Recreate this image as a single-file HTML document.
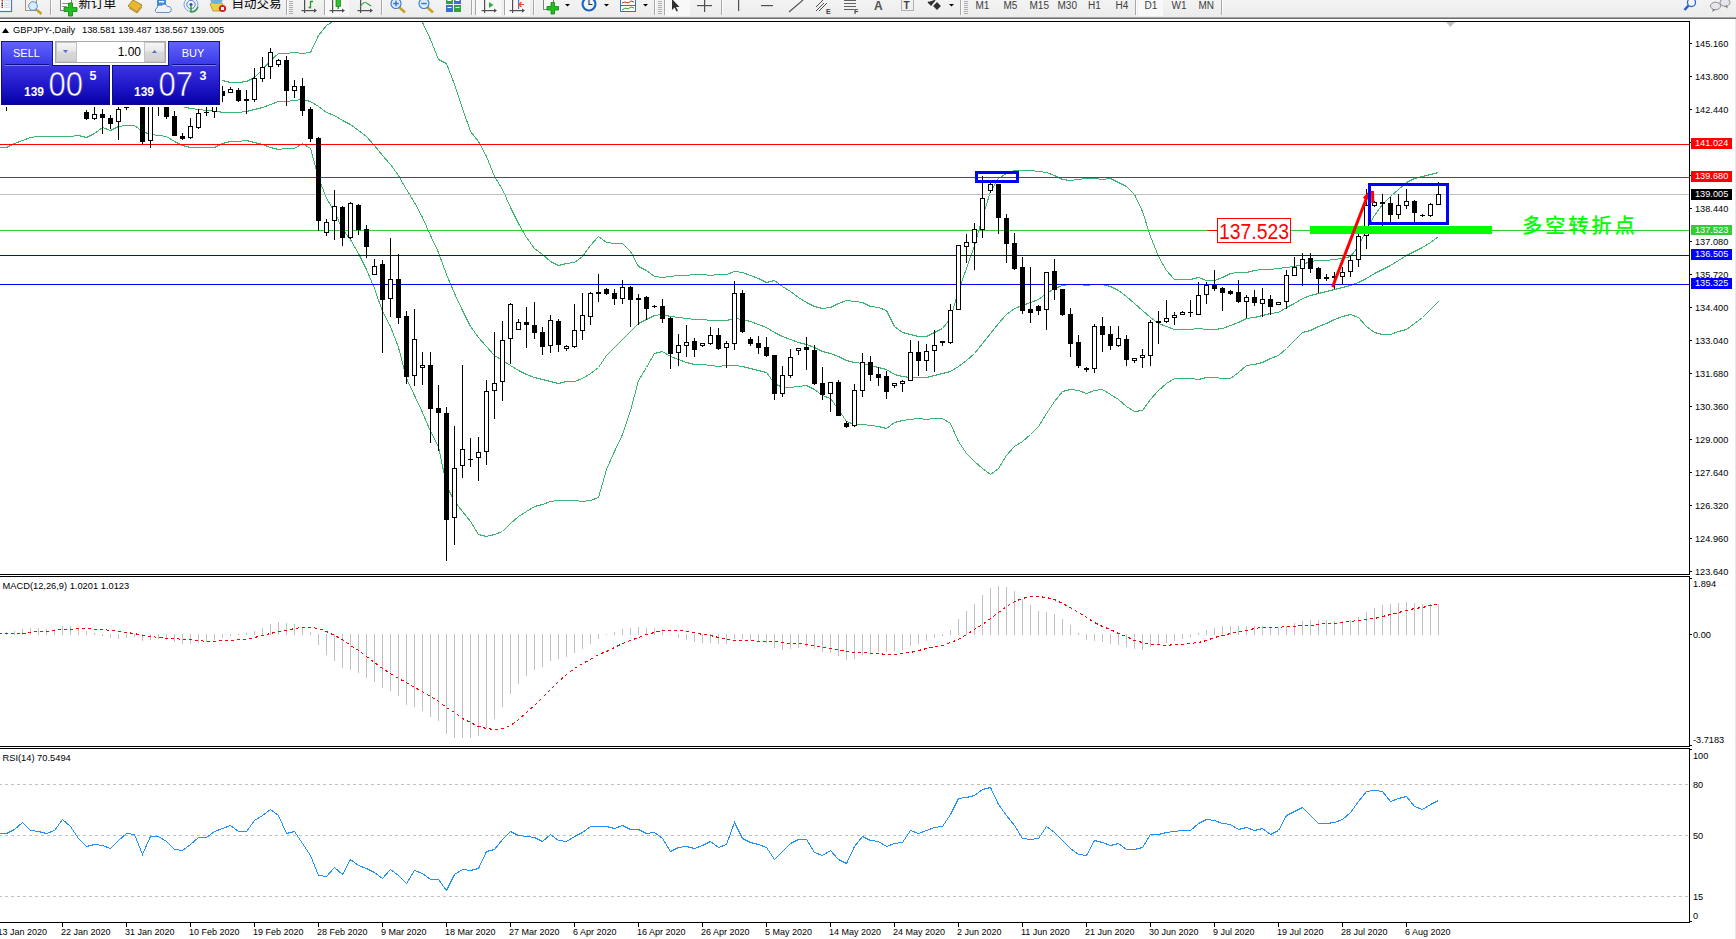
<!DOCTYPE html>
<html><head><meta charset="utf-8"><title>GBPJPY Daily</title>
<style>
html,body{margin:0;padding:0;background:#fff;}
body{width:1736px;height:939px;overflow:hidden;position:relative;font-family:'Liberation Sans', 'Noto Sans CJK SC', sans-serif;}
#tb{position:absolute;left:0;top:0;width:1736px;height:17px;background:#f0f0f0;overflow:hidden;}
#tbl{position:absolute;left:0;top:17px;width:1736px;height:1px;background:#a4a4a4;border-bottom:1px solid #6e6e6e;}
#chart{position:absolute;left:0;top:0;}
#edge{position:absolute;left:1735px;top:19px;width:1px;height:920px;background:#e8e8e8;}
</style></head><body>
<svg id="chart" width="1736" height="939" viewBox="0 0 1736 939" shape-rendering="crispEdges"><line x1="0" y1="21.5" x2="1690" y2="21.5" stroke="#000" stroke-width="1" /><line x1="0" y1="574.5" x2="1690" y2="574.5" stroke="#000" stroke-width="1" /><line x1="0" y1="576.5" x2="1690" y2="576.5" stroke="#000" stroke-width="1" /><line x1="0" y1="746.5" x2="1690" y2="746.5" stroke="#000" stroke-width="1" /><line x1="0" y1="748.5" x2="1690" y2="748.5" stroke="#000" stroke-width="1" /><line x1="0" y1="922.5" x2="1690" y2="922.5" stroke="#000" stroke-width="1" /><line x1="1689.5" y1="21" x2="1689.5" y2="575" stroke="#000" stroke-width="1" /><line x1="1689.5" y1="576" x2="1689.5" y2="747" stroke="#000" stroke-width="1" /><line x1="1689.5" y1="748" x2="1689.5" y2="923" stroke="#000" stroke-width="1" /><clipPath id="cm"><rect x="0" y="22" width="1689" height="552"/></clipPath><clipPath id="cd"><rect x="0" y="577" width="1689" height="169"/></clipPath><clipPath id="cr"><rect x="0" y="749" width="1689" height="173"/></clipPath><g clip-path="url(#cm)"><polyline points="-1.5,52.5 6.5,52.5 14.5,61.5 22.5,66.5 30.5,71.5 38.5,73.5 46.5,74.5 54.5,72.5 62.5,66.5 70.5,63.5 78.5,63.5 86.5,62.5 94.5,64.5 102.5,67.5 110.5,66.5 118.5,68.5 126.5,67.5 134.5,68.5 142.5,64.5 150.5,65.5 158.5,65.5 166.5,65.5 174.5,64.5 182.5,67.5 190.5,69.5 198.5,71.5 206.5,72.5 214.5,74.5 222.5,80.5 230.5,82.5 238.5,82.5 246.5,81.5 254.5,77.5 262.5,69.5 270.5,60.5 278.5,53.5 286.5,53.5 294.5,52.5 302.5,53.5 310.5,52.5 318.5,35.5 326.5,25.5 334.5,20.5 342.5,11.5 350.5,9.5 358.5,6.5 366.5,3.5 374.5,1.5 382.5,-0.5 390.5,2.5 398.5,3.5 406.5,0.5 414.5,9.5 422.5,22.5 430.5,39.5 438.5,59.5 446.5,63.5 454.5,84.5 462.5,108.5 470.5,131.5 478.5,141.5 486.5,156.5 494.5,176.5 502.5,189.5 510.5,207.5 518.5,223.5 526.5,237.5 534.5,248.5 542.5,254.5 550.5,261.5 558.5,265.5 566.5,263.5 574.5,262.5 582.5,256.5 590.5,245.5 598.5,236.5 606.5,242.5 614.5,243.5 622.5,243.5 630.5,251.5 638.5,266.5 646.5,270.5 654.5,276.5 662.5,277.5 670.5,276.5 678.5,275.5 686.5,275.5 694.5,274.5 702.5,274.5 710.5,275.5 718.5,274.5 726.5,274.5 734.5,271.5 742.5,272.5 750.5,275.5 758.5,278.5 766.5,282.5 774.5,280.5 782.5,286.5 790.5,291.5 798.5,297.5 806.5,302.5 814.5,306.5 822.5,308.5 830.5,307.5 838.5,303.5 846.5,300.5 854.5,301.5 862.5,302.5 870.5,306.5 878.5,307.5 886.5,310.5 894.5,326.5 902.5,332.5 910.5,334.5 918.5,336.5 926.5,336.5 934.5,332.5 942.5,328.5 950.5,318.5 958.5,290.5 966.5,268.5 974.5,245.5 982.5,217.5 990.5,191.5 998.5,178.5 1006.5,173.5 1014.5,170.5 1022.5,170.5 1030.5,170.5 1038.5,171.5 1046.5,172.5 1054.5,175.5 1062.5,179.5 1070.5,180.5 1078.5,179.5 1086.5,178.5 1094.5,178.5 1102.5,179.5 1110.5,178.5 1118.5,182.5 1126.5,186.5 1134.5,194.5 1142.5,211.5 1150.5,236.5 1158.5,256.5 1166.5,270.5 1174.5,279.5 1182.5,279.5 1190.5,279.5 1198.5,277.5 1206.5,280.5 1214.5,280.5 1222.5,277.5 1230.5,273.5 1238.5,272.5 1246.5,272.5 1254.5,270.5 1262.5,269.5 1270.5,269.5 1278.5,268.5 1286.5,267.5 1294.5,266.5 1302.5,264.5 1310.5,261.5 1318.5,260.5 1326.5,260.5 1334.5,259.5 1342.5,258.5 1350.5,256.5 1358.5,246.5 1366.5,229.5 1374.5,215.5 1382.5,204.5 1390.5,196.5 1398.5,189.5 1406.5,182.5 1414.5,178.5 1422.5,176.5 1430.5,174.5 1438.5,172.5" fill="none" stroke="#3cb371" stroke-width="1" /><polyline points="-1.5,100.5 6.5,100.5 14.5,102.5 22.5,103.5 30.5,104.5 38.5,105.5 46.5,105.5 54.5,104.5 62.5,101.5 70.5,100.5 78.5,99.5 86.5,100.5 94.5,99.5 102.5,97.5 110.5,98.5 118.5,97.5 126.5,97.5 134.5,97.5 142.5,99.5 150.5,99.5 158.5,100.5 166.5,100.5 174.5,103.5 182.5,106.5 190.5,108.5 198.5,109.5 206.5,110.5 214.5,110.5 222.5,112.5 230.5,112.5 238.5,112.5 246.5,111.5 254.5,109.5 262.5,107.5 270.5,104.5 278.5,101.5 286.5,101.5 294.5,100.5 302.5,99.5 310.5,101.5 318.5,106.5 326.5,112.5 334.5,115.5 342.5,120.5 350.5,124.5 358.5,130.5 366.5,136.5 374.5,145.5 382.5,155.5 390.5,164.5 398.5,175.5 406.5,189.5 414.5,202.5 422.5,217.5 430.5,235.5 438.5,252.5 446.5,274.5 454.5,293.5 462.5,310.5 470.5,326.5 478.5,337.5 486.5,346.5 494.5,355.5 502.5,360.5 510.5,365.5 518.5,370.5 526.5,374.5 534.5,377.5 542.5,379.5 550.5,381.5 558.5,383.5 566.5,381.5 574.5,381.5 582.5,378.5 590.5,373.5 598.5,367.5 606.5,355.5 614.5,347.5 622.5,339.5 630.5,331.5 638.5,323.5 646.5,319.5 654.5,315.5 662.5,314.5 670.5,316.5 678.5,317.5 686.5,318.5 694.5,319.5 702.5,319.5 710.5,320.5 718.5,320.5 726.5,320.5 734.5,318.5 742.5,319.5 750.5,321.5 758.5,324.5 766.5,327.5 774.5,332.5 782.5,336.5 790.5,339.5 798.5,342.5 806.5,344.5 814.5,347.5 822.5,351.5 830.5,353.5 838.5,356.5 846.5,360.5 854.5,362.5 862.5,363.5 870.5,365.5 878.5,367.5 886.5,369.5 894.5,374.5 902.5,376.5 910.5,377.5 918.5,377.5 926.5,377.5 934.5,375.5 942.5,373.5 950.5,371.5 958.5,366.5 966.5,360.5 974.5,353.5 982.5,343.5 990.5,333.5 998.5,323.5 1006.5,314.5 1014.5,308.5 1022.5,305.5 1030.5,302.5 1038.5,299.5 1046.5,293.5 1054.5,288.5 1062.5,285.5 1070.5,284.5 1078.5,284.5 1086.5,285.5 1094.5,284.5 1102.5,284.5 1110.5,286.5 1118.5,290.5 1126.5,296.5 1134.5,303.5 1142.5,310.5 1150.5,317.5 1158.5,323.5 1166.5,326.5 1174.5,329.5 1182.5,329.5 1190.5,329.5 1198.5,328.5 1206.5,329.5 1214.5,329.5 1222.5,328.5 1230.5,325.5 1238.5,322.5 1246.5,318.5 1254.5,317.5 1262.5,315.5 1270.5,313.5 1278.5,312.5 1286.5,307.5 1294.5,303.5 1302.5,298.5 1310.5,295.5 1318.5,293.5 1326.5,291.5 1334.5,289.5 1342.5,287.5 1350.5,285.5 1358.5,282.5 1366.5,278.5 1374.5,273.5 1382.5,269.5 1390.5,265.5 1398.5,260.5 1406.5,255.5 1414.5,251.5 1422.5,247.5 1430.5,242.5 1438.5,236.5" fill="none" stroke="#3cb371" stroke-width="1" /><polyline points="-1.5,147.5 6.5,147.5 14.5,143.5 22.5,140.5 30.5,137.5 38.5,136.5 46.5,136.5 54.5,136.5 62.5,136.5 70.5,136.5 78.5,135.5 86.5,137.5 94.5,133.5 102.5,127.5 110.5,130.5 118.5,126.5 126.5,125.5 134.5,125.5 142.5,131.5 150.5,134.5 158.5,135.5 166.5,136.5 174.5,141.5 182.5,145.5 190.5,147.5 198.5,147.5 206.5,147.5 214.5,147.5 222.5,143.5 230.5,141.5 238.5,141.5 246.5,140.5 254.5,142.5 262.5,144.5 270.5,147.5 278.5,149.5 286.5,148.5 294.5,148.5 302.5,143.5 310.5,148.5 318.5,177.5 326.5,198.5 334.5,211.5 342.5,229.5 350.5,239.5 358.5,253.5 366.5,269.5 374.5,288.5 382.5,311.5 390.5,326.5 398.5,347.5 406.5,378.5 414.5,395.5 422.5,412.5 430.5,431.5 438.5,446.5 446.5,485.5 454.5,501.5 462.5,511.5 470.5,521.5 478.5,534.5 486.5,536.5 494.5,534.5 502.5,531.5 510.5,523.5 518.5,516.5 526.5,511.5 534.5,506.5 542.5,504.5 550.5,501.5 558.5,500.5 566.5,500.5 574.5,500.5 582.5,501.5 590.5,500.5 598.5,497.5 606.5,469.5 614.5,451.5 622.5,434.5 630.5,410.5 638.5,380.5 646.5,367.5 654.5,353.5 662.5,351.5 670.5,356.5 678.5,359.5 686.5,362.5 694.5,364.5 702.5,364.5 710.5,365.5 718.5,366.5 726.5,365.5 734.5,365.5 742.5,366.5 750.5,368.5 758.5,370.5 766.5,372.5 774.5,383.5 782.5,387.5 790.5,387.5 798.5,386.5 806.5,385.5 814.5,389.5 822.5,395.5 830.5,398.5 838.5,409.5 846.5,421.5 854.5,424.5 862.5,424.5 870.5,425.5 878.5,426.5 886.5,428.5 894.5,422.5 902.5,420.5 910.5,419.5 918.5,418.5 926.5,419.5 934.5,418.5 942.5,418.5 950.5,423.5 958.5,441.5 966.5,453.5 974.5,461.5 982.5,468.5 990.5,474.5 998.5,468.5 1006.5,455.5 1014.5,446.5 1022.5,441.5 1030.5,434.5 1038.5,426.5 1046.5,413.5 1054.5,401.5 1062.5,391.5 1070.5,389.5 1078.5,390.5 1086.5,393.5 1094.5,390.5 1102.5,389.5 1110.5,394.5 1118.5,399.5 1126.5,406.5 1134.5,411.5 1142.5,410.5 1150.5,399.5 1158.5,390.5 1166.5,383.5 1174.5,378.5 1182.5,378.5 1190.5,378.5 1198.5,379.5 1206.5,377.5 1214.5,377.5 1222.5,378.5 1230.5,378.5 1238.5,372.5 1246.5,365.5 1254.5,364.5 1262.5,362.5 1270.5,358.5 1278.5,355.5 1286.5,348.5 1294.5,340.5 1302.5,332.5 1310.5,330.5 1318.5,326.5 1326.5,323.5 1334.5,319.5 1342.5,316.5 1350.5,314.5 1358.5,317.5 1366.5,326.5 1374.5,332.5 1382.5,334.5 1390.5,334.5 1398.5,331.5 1406.5,329.5 1414.5,323.5 1422.5,317.5 1430.5,309.5 1438.5,301.5" fill="none" stroke="#3cb371" stroke-width="1" /><line x1="0" y1="144.5" x2="1689" y2="144.5" stroke="#ff0000" stroke-width="1" /><line x1="0" y1="177.5" x2="1689" y2="177.5" stroke="#ff0000" stroke-width="1" /><line x1="0" y1="194.5" x2="1689" y2="194.5" stroke="#c0c0c0" stroke-width="1" /><line x1="0" y1="230.5" x2="1689" y2="230.5" stroke="#32cd32" stroke-width="1" /><line x1="0" y1="255.5" x2="1689" y2="255.5" stroke="#0000ff" stroke-width="1" /><line x1="0" y1="284.5" x2="1689" y2="284.5" stroke="#0000ff" stroke-width="1" /><rect x="6" y="88" width="1" height="23" fill="#000"/><rect x="4" y="95" width="5" height="6" fill="#000"/><rect x="14" y="85" width="1" height="20" fill="#000"/><rect x="12" y="92" width="5" height="9" fill="#000"/><rect x="13" y="93" width="3" height="7" fill="#fff"/><rect x="22" y="78" width="1" height="19" fill="#000"/><rect x="20" y="82" width="5" height="11" fill="#000"/><rect x="21" y="83" width="3" height="9" fill="#fff"/><rect x="30" y="76" width="1" height="19" fill="#000"/><rect x="28" y="82" width="5" height="7" fill="#000"/><rect x="38" y="85" width="1" height="6" fill="#000"/><rect x="36" y="87" width="5" height="3" fill="#000"/><rect x="37" y="88" width="3" height="1" fill="#fff"/><rect x="46" y="80" width="1" height="18" fill="#000"/><rect x="44" y="87" width="5" height="4" fill="#000"/><rect x="54" y="75" width="1" height="21" fill="#000"/><rect x="52" y="80" width="5" height="11" fill="#000"/><rect x="53" y="81" width="3" height="9" fill="#fff"/><rect x="62" y="66" width="1" height="20" fill="#000"/><rect x="60" y="72" width="5" height="9" fill="#000"/><rect x="61" y="73" width="3" height="7" fill="#fff"/><rect x="70" y="70" width="1" height="23" fill="#000"/><rect x="68" y="72" width="5" height="14" fill="#000"/><rect x="78" y="84" width="1" height="22" fill="#000"/><rect x="76" y="88" width="5" height="16" fill="#000"/><rect x="86" y="110" width="1" height="10" fill="#000"/><rect x="84" y="112" width="5" height="7" fill="#000"/><rect x="94" y="104" width="1" height="16" fill="#000"/><rect x="92" y="114" width="5" height="5" fill="#000"/><rect x="93" y="115" width="3" height="3" fill="#fff"/><rect x="102" y="109" width="1" height="25" fill="#000"/><rect x="100" y="114" width="5" height="4" fill="#000"/><rect x="110" y="115" width="1" height="14" fill="#000"/><rect x="108" y="118" width="5" height="6" fill="#000"/><rect x="118" y="104" width="1" height="36" fill="#000"/><rect x="116" y="109" width="5" height="13" fill="#000"/><rect x="117" y="110" width="3" height="11" fill="#fff"/><rect x="126" y="90" width="1" height="20" fill="#000"/><rect x="124" y="95" width="5" height="13" fill="#000"/><rect x="125" y="96" width="3" height="11" fill="#fff"/><rect x="134" y="94" width="1" height="6" fill="#000"/><rect x="132" y="96" width="5" height="1" fill="#000"/><rect x="142" y="95" width="1" height="49" fill="#000"/><rect x="140" y="98" width="5" height="44" fill="#000"/><rect x="150" y="100" width="1" height="48" fill="#000"/><rect x="148" y="103" width="5" height="38" fill="#000"/><rect x="149" y="104" width="3" height="36" fill="#fff"/><rect x="158" y="96" width="1" height="20" fill="#000"/><rect x="156" y="100" width="5" height="3" fill="#000"/><rect x="166" y="98" width="1" height="21" fill="#000"/><rect x="164" y="102" width="5" height="15" fill="#000"/><rect x="174" y="111" width="1" height="25" fill="#000"/><rect x="172" y="116" width="5" height="20" fill="#000"/><rect x="182" y="133" width="1" height="7" fill="#000"/><rect x="180" y="136" width="5" height="3" fill="#000"/><rect x="190" y="118" width="1" height="21" fill="#000"/><rect x="188" y="126" width="5" height="12" fill="#000"/><rect x="189" y="127" width="3" height="10" fill="#fff"/><rect x="198" y="109" width="1" height="20" fill="#000"/><rect x="196" y="113" width="5" height="15" fill="#000"/><rect x="197" y="114" width="3" height="13" fill="#fff"/><rect x="206" y="104" width="1" height="12" fill="#000"/><rect x="204" y="112" width="5" height="1" fill="#000"/><rect x="214" y="100" width="1" height="18" fill="#000"/><rect x="212" y="102" width="5" height="10" fill="#000"/><rect x="213" y="103" width="3" height="8" fill="#fff"/><rect x="222" y="86" width="1" height="16" fill="#000"/><rect x="220" y="91" width="5" height="5" fill="#000"/><rect x="230" y="87" width="1" height="6" fill="#000"/><rect x="228" y="89" width="5" height="4" fill="#000"/><rect x="229" y="90" width="3" height="2" fill="#fff"/><rect x="238" y="88" width="1" height="14" fill="#000"/><rect x="236" y="90" width="5" height="11" fill="#000"/><rect x="246" y="90" width="1" height="24" fill="#000"/><rect x="244" y="99" width="5" height="2" fill="#000"/><rect x="254" y="68" width="1" height="34" fill="#000"/><rect x="252" y="78" width="5" height="22" fill="#000"/><rect x="253" y="79" width="3" height="20" fill="#fff"/><rect x="262" y="57" width="1" height="25" fill="#000"/><rect x="260" y="67" width="5" height="12" fill="#000"/><rect x="261" y="68" width="3" height="10" fill="#fff"/><rect x="270" y="48" width="1" height="31" fill="#000"/><rect x="268" y="52" width="5" height="15" fill="#000"/><rect x="269" y="53" width="3" height="13" fill="#fff"/><rect x="278" y="59" width="1" height="8" fill="#000"/><rect x="276" y="60" width="5" height="5" fill="#000"/><rect x="277" y="61" width="3" height="3" fill="#fff"/><rect x="286" y="56" width="1" height="50" fill="#000"/><rect x="284" y="60" width="5" height="31" fill="#000"/><rect x="294" y="80" width="1" height="18" fill="#000"/><rect x="292" y="86" width="5" height="5" fill="#000"/><rect x="293" y="87" width="3" height="3" fill="#fff"/><rect x="302" y="78" width="1" height="38" fill="#000"/><rect x="300" y="86" width="5" height="25" fill="#000"/><rect x="310" y="107" width="1" height="35" fill="#000"/><rect x="308" y="109" width="5" height="30" fill="#000"/><rect x="318" y="137" width="1" height="94" fill="#000"/><rect x="316" y="138" width="5" height="83" fill="#000"/><rect x="326" y="219" width="1" height="17" fill="#000"/><rect x="324" y="222" width="5" height="11" fill="#000"/><rect x="325" y="223" width="3" height="9" fill="#fff"/><rect x="334" y="190" width="1" height="50" fill="#000"/><rect x="332" y="206" width="5" height="15" fill="#000"/><rect x="333" y="207" width="3" height="13" fill="#fff"/><rect x="342" y="206" width="1" height="40" fill="#000"/><rect x="340" y="207" width="5" height="31" fill="#000"/><rect x="350" y="202" width="1" height="37" fill="#000"/><rect x="348" y="203" width="5" height="35" fill="#000"/><rect x="349" y="204" width="3" height="33" fill="#fff"/><rect x="358" y="204" width="1" height="31" fill="#000"/><rect x="356" y="205" width="5" height="25" fill="#000"/><rect x="366" y="225" width="1" height="33" fill="#000"/><rect x="364" y="229" width="5" height="18" fill="#000"/><rect x="374" y="259" width="1" height="16" fill="#000"/><rect x="372" y="266" width="5" height="9" fill="#000"/><rect x="373" y="267" width="3" height="7" fill="#fff"/><rect x="382" y="260" width="1" height="93" fill="#000"/><rect x="380" y="264" width="5" height="36" fill="#000"/><rect x="390" y="238" width="1" height="79" fill="#000"/><rect x="388" y="279" width="5" height="20" fill="#000"/><rect x="389" y="280" width="3" height="18" fill="#fff"/><rect x="398" y="254" width="1" height="70" fill="#000"/><rect x="396" y="279" width="5" height="39" fill="#000"/><rect x="406" y="311" width="1" height="73" fill="#000"/><rect x="404" y="316" width="5" height="61" fill="#000"/><rect x="414" y="309" width="1" height="77" fill="#000"/><rect x="412" y="339" width="5" height="37" fill="#000"/><rect x="413" y="340" width="3" height="35" fill="#fff"/><rect x="422" y="352" width="1" height="33" fill="#000"/><rect x="420" y="365" width="5" height="3" fill="#000"/><rect x="421" y="366" width="3" height="1" fill="#fff"/><rect x="430" y="352" width="1" height="91" fill="#000"/><rect x="428" y="365" width="5" height="44" fill="#000"/><rect x="438" y="385" width="1" height="66" fill="#000"/><rect x="436" y="408" width="5" height="5" fill="#000"/><rect x="446" y="407" width="1" height="154" fill="#000"/><rect x="444" y="413" width="5" height="107" fill="#000"/><rect x="454" y="426" width="1" height="119" fill="#000"/><rect x="452" y="468" width="5" height="50" fill="#000"/><rect x="453" y="469" width="3" height="48" fill="#fff"/><rect x="462" y="365" width="1" height="113" fill="#000"/><rect x="460" y="449" width="5" height="17" fill="#000"/><rect x="461" y="450" width="3" height="15" fill="#fff"/><rect x="470" y="438" width="1" height="29" fill="#000"/><rect x="468" y="459" width="5" height="1" fill="#000"/><rect x="478" y="437" width="1" height="44" fill="#000"/><rect x="476" y="452" width="5" height="6" fill="#000"/><rect x="477" y="453" width="3" height="4" fill="#fff"/><rect x="486" y="380" width="1" height="85" fill="#000"/><rect x="484" y="391" width="5" height="61" fill="#000"/><rect x="485" y="392" width="3" height="59" fill="#fff"/><rect x="494" y="332" width="1" height="87" fill="#000"/><rect x="492" y="383" width="5" height="8" fill="#000"/><rect x="493" y="384" width="3" height="6" fill="#fff"/><rect x="502" y="321" width="1" height="80" fill="#000"/><rect x="500" y="340" width="5" height="42" fill="#000"/><rect x="501" y="341" width="3" height="40" fill="#fff"/><rect x="510" y="303" width="1" height="61" fill="#000"/><rect x="508" y="304" width="5" height="35" fill="#000"/><rect x="509" y="305" width="3" height="33" fill="#fff"/><rect x="518" y="319" width="1" height="11" fill="#000"/><rect x="516" y="322" width="5" height="8" fill="#000"/><rect x="517" y="323" width="3" height="6" fill="#fff"/><rect x="526" y="307" width="1" height="41" fill="#000"/><rect x="524" y="322" width="5" height="3" fill="#000"/><rect x="534" y="302" width="1" height="37" fill="#000"/><rect x="532" y="325" width="5" height="8" fill="#000"/><rect x="542" y="327" width="1" height="28" fill="#000"/><rect x="540" y="332" width="5" height="15" fill="#000"/><rect x="550" y="315" width="1" height="38" fill="#000"/><rect x="548" y="320" width="5" height="26" fill="#000"/><rect x="549" y="321" width="3" height="24" fill="#fff"/><rect x="558" y="319" width="1" height="33" fill="#000"/><rect x="556" y="321" width="5" height="24" fill="#000"/><rect x="566" y="345" width="1" height="6" fill="#000"/><rect x="564" y="346" width="5" height="3" fill="#000"/><rect x="565" y="347" width="3" height="1" fill="#fff"/><rect x="574" y="304" width="1" height="44" fill="#000"/><rect x="572" y="330" width="5" height="17" fill="#000"/><rect x="573" y="331" width="3" height="15" fill="#fff"/><rect x="582" y="293" width="1" height="47" fill="#000"/><rect x="580" y="315" width="5" height="16" fill="#000"/><rect x="581" y="316" width="3" height="14" fill="#fff"/><rect x="590" y="292" width="1" height="33" fill="#000"/><rect x="588" y="293" width="5" height="24" fill="#000"/><rect x="589" y="294" width="3" height="22" fill="#fff"/><rect x="598" y="274" width="1" height="28" fill="#000"/><rect x="596" y="292" width="5" height="2" fill="#000"/><rect x="606" y="288" width="1" height="7" fill="#000"/><rect x="604" y="289" width="5" height="5" fill="#000"/><rect x="614" y="289" width="1" height="16" fill="#000"/><rect x="612" y="293" width="5" height="6" fill="#000"/><rect x="622" y="280" width="1" height="24" fill="#000"/><rect x="620" y="287" width="5" height="12" fill="#000"/><rect x="621" y="288" width="3" height="10" fill="#fff"/><rect x="630" y="286" width="1" height="41" fill="#000"/><rect x="628" y="287" width="5" height="13" fill="#000"/><rect x="638" y="294" width="1" height="31" fill="#000"/><rect x="636" y="298" width="5" height="2" fill="#000"/><rect x="646" y="296" width="1" height="24" fill="#000"/><rect x="644" y="297" width="5" height="12" fill="#000"/><rect x="654" y="305" width="1" height="3" fill="#000"/><rect x="652" y="306" width="5" height="1" fill="#000"/><rect x="662" y="299" width="1" height="24" fill="#000"/><rect x="660" y="306" width="5" height="13" fill="#000"/><rect x="670" y="317" width="1" height="52" fill="#000"/><rect x="668" y="318" width="5" height="36" fill="#000"/><rect x="678" y="334" width="1" height="32" fill="#000"/><rect x="676" y="345" width="5" height="8" fill="#000"/><rect x="677" y="346" width="3" height="6" fill="#fff"/><rect x="686" y="325" width="1" height="32" fill="#000"/><rect x="684" y="342" width="5" height="4" fill="#000"/><rect x="685" y="343" width="3" height="2" fill="#fff"/><rect x="694" y="338" width="1" height="19" fill="#000"/><rect x="692" y="341" width="5" height="9" fill="#000"/><rect x="702" y="343" width="1" height="4" fill="#000"/><rect x="700" y="343" width="5" height="3" fill="#000"/><rect x="701" y="344" width="3" height="1" fill="#fff"/><rect x="710" y="327" width="1" height="18" fill="#000"/><rect x="708" y="335" width="5" height="9" fill="#000"/><rect x="709" y="336" width="3" height="7" fill="#fff"/><rect x="718" y="328" width="1" height="22" fill="#000"/><rect x="716" y="335" width="5" height="14" fill="#000"/><rect x="726" y="341" width="1" height="27" fill="#000"/><rect x="724" y="343" width="5" height="5" fill="#000"/><rect x="725" y="344" width="3" height="3" fill="#fff"/><rect x="734" y="281" width="1" height="69" fill="#000"/><rect x="732" y="293" width="5" height="51" fill="#000"/><rect x="733" y="294" width="3" height="49" fill="#fff"/><rect x="742" y="290" width="1" height="43" fill="#000"/><rect x="740" y="293" width="5" height="39" fill="#000"/><rect x="750" y="337" width="1" height="9" fill="#000"/><rect x="748" y="339" width="5" height="5" fill="#000"/><rect x="758" y="336" width="1" height="18" fill="#000"/><rect x="756" y="343" width="5" height="5" fill="#000"/><rect x="766" y="337" width="1" height="20" fill="#000"/><rect x="764" y="347" width="5" height="9" fill="#000"/><rect x="774" y="355" width="1" height="45" fill="#000"/><rect x="772" y="355" width="5" height="39" fill="#000"/><rect x="782" y="366" width="1" height="31" fill="#000"/><rect x="780" y="375" width="5" height="19" fill="#000"/><rect x="781" y="376" width="3" height="17" fill="#fff"/><rect x="790" y="349" width="1" height="29" fill="#000"/><rect x="788" y="357" width="5" height="19" fill="#000"/><rect x="789" y="358" width="3" height="17" fill="#fff"/><rect x="798" y="348" width="1" height="7" fill="#000"/><rect x="796" y="348" width="5" height="3" fill="#000"/><rect x="797" y="349" width="3" height="1" fill="#fff"/><rect x="806" y="337" width="1" height="33" fill="#000"/><rect x="804" y="347" width="5" height="3" fill="#000"/><rect x="814" y="345" width="1" height="40" fill="#000"/><rect x="812" y="350" width="5" height="34" fill="#000"/><rect x="822" y="367" width="1" height="33" fill="#000"/><rect x="820" y="383" width="5" height="12" fill="#000"/><rect x="830" y="382" width="1" height="30" fill="#000"/><rect x="828" y="382" width="5" height="12" fill="#000"/><rect x="829" y="383" width="3" height="10" fill="#fff"/><rect x="838" y="380" width="1" height="36" fill="#000"/><rect x="836" y="382" width="5" height="34" fill="#000"/><rect x="846" y="421" width="1" height="7" fill="#000"/><rect x="844" y="423" width="5" height="4" fill="#000"/><rect x="854" y="384" width="1" height="43" fill="#000"/><rect x="852" y="390" width="5" height="36" fill="#000"/><rect x="853" y="391" width="3" height="34" fill="#fff"/><rect x="862" y="353" width="1" height="44" fill="#000"/><rect x="860" y="362" width="5" height="29" fill="#000"/><rect x="861" y="363" width="3" height="27" fill="#fff"/><rect x="870" y="356" width="1" height="25" fill="#000"/><rect x="868" y="362" width="5" height="13" fill="#000"/><rect x="878" y="367" width="1" height="19" fill="#000"/><rect x="876" y="374" width="5" height="4" fill="#000"/><rect x="886" y="371" width="1" height="28" fill="#000"/><rect x="884" y="376" width="5" height="16" fill="#000"/><rect x="894" y="383" width="1" height="5" fill="#000"/><rect x="892" y="383" width="5" height="3" fill="#000"/><rect x="893" y="384" width="3" height="1" fill="#fff"/><rect x="902" y="380" width="1" height="12" fill="#000"/><rect x="900" y="381" width="5" height="3" fill="#000"/><rect x="901" y="382" width="3" height="1" fill="#fff"/><rect x="910" y="340" width="1" height="41" fill="#000"/><rect x="908" y="352" width="5" height="29" fill="#000"/><rect x="909" y="353" width="3" height="27" fill="#fff"/><rect x="918" y="341" width="1" height="35" fill="#000"/><rect x="916" y="352" width="5" height="9" fill="#000"/><rect x="926" y="344" width="1" height="27" fill="#000"/><rect x="924" y="351" width="5" height="10" fill="#000"/><rect x="925" y="352" width="3" height="8" fill="#fff"/><rect x="934" y="330" width="1" height="42" fill="#000"/><rect x="932" y="345" width="5" height="6" fill="#000"/><rect x="933" y="346" width="3" height="4" fill="#fff"/><rect x="942" y="341" width="1" height="5" fill="#000"/><rect x="940" y="341" width="5" height="2" fill="#000"/><rect x="950" y="304" width="1" height="40" fill="#000"/><rect x="948" y="310" width="5" height="33" fill="#000"/><rect x="949" y="311" width="3" height="31" fill="#fff"/><rect x="958" y="245" width="1" height="65" fill="#000"/><rect x="956" y="245" width="5" height="65" fill="#000"/><rect x="957" y="246" width="3" height="63" fill="#fff"/><rect x="966" y="234" width="1" height="29" fill="#000"/><rect x="964" y="242" width="5" height="5" fill="#000"/><rect x="965" y="243" width="3" height="3" fill="#fff"/><rect x="974" y="223" width="1" height="47" fill="#000"/><rect x="972" y="229" width="5" height="14" fill="#000"/><rect x="973" y="230" width="3" height="12" fill="#fff"/><rect x="982" y="176" width="1" height="62" fill="#000"/><rect x="980" y="198" width="5" height="32" fill="#000"/><rect x="981" y="199" width="3" height="30" fill="#fff"/><rect x="990" y="183" width="1" height="10" fill="#000"/><rect x="988" y="184" width="5" height="7" fill="#000"/><rect x="989" y="185" width="3" height="5" fill="#fff"/><rect x="998" y="184" width="1" height="50" fill="#000"/><rect x="996" y="184" width="5" height="34" fill="#000"/><rect x="1006" y="214" width="1" height="49" fill="#000"/><rect x="1004" y="218" width="5" height="26" fill="#000"/><rect x="1014" y="233" width="1" height="37" fill="#000"/><rect x="1012" y="243" width="5" height="26" fill="#000"/><rect x="1022" y="257" width="1" height="57" fill="#000"/><rect x="1020" y="267" width="5" height="44" fill="#000"/><rect x="1030" y="267" width="1" height="56" fill="#000"/><rect x="1028" y="309" width="5" height="4" fill="#000"/><rect x="1038" y="305" width="1" height="10" fill="#000"/><rect x="1036" y="306" width="5" height="5" fill="#000"/><rect x="1046" y="272" width="1" height="58" fill="#000"/><rect x="1044" y="272" width="5" height="38" fill="#000"/><rect x="1045" y="273" width="3" height="36" fill="#fff"/><rect x="1054" y="259" width="1" height="41" fill="#000"/><rect x="1052" y="271" width="5" height="19" fill="#000"/><rect x="1062" y="289" width="1" height="27" fill="#000"/><rect x="1060" y="289" width="5" height="26" fill="#000"/><rect x="1070" y="308" width="1" height="49" fill="#000"/><rect x="1068" y="314" width="5" height="30" fill="#000"/><rect x="1078" y="335" width="1" height="33" fill="#000"/><rect x="1076" y="342" width="5" height="24" fill="#000"/><rect x="1086" y="367" width="1" height="5" fill="#000"/><rect x="1084" y="368" width="5" height="2" fill="#000"/><rect x="1094" y="324" width="1" height="49" fill="#000"/><rect x="1092" y="326" width="5" height="43" fill="#000"/><rect x="1093" y="327" width="3" height="41" fill="#fff"/><rect x="1102" y="317" width="1" height="35" fill="#000"/><rect x="1100" y="326" width="5" height="9" fill="#000"/><rect x="1110" y="326" width="1" height="24" fill="#000"/><rect x="1108" y="334" width="5" height="12" fill="#000"/><rect x="1118" y="326" width="1" height="21" fill="#000"/><rect x="1116" y="338" width="5" height="8" fill="#000"/><rect x="1117" y="339" width="3" height="6" fill="#fff"/><rect x="1126" y="335" width="1" height="31" fill="#000"/><rect x="1124" y="339" width="5" height="21" fill="#000"/><rect x="1134" y="358" width="1" height="5" fill="#000"/><rect x="1132" y="358" width="5" height="3" fill="#000"/><rect x="1133" y="359" width="3" height="1" fill="#fff"/><rect x="1142" y="349" width="1" height="19" fill="#000"/><rect x="1140" y="355" width="5" height="3" fill="#000"/><rect x="1141" y="356" width="3" height="1" fill="#fff"/><rect x="1150" y="320" width="1" height="46" fill="#000"/><rect x="1148" y="322" width="5" height="34" fill="#000"/><rect x="1149" y="323" width="3" height="32" fill="#fff"/><rect x="1158" y="311" width="1" height="33" fill="#000"/><rect x="1156" y="321" width="5" height="2" fill="#000"/><rect x="1166" y="300" width="1" height="23" fill="#000"/><rect x="1164" y="318" width="5" height="4" fill="#000"/><rect x="1165" y="319" width="3" height="2" fill="#fff"/><rect x="1174" y="312" width="1" height="13" fill="#000"/><rect x="1172" y="315" width="5" height="3" fill="#000"/><rect x="1173" y="316" width="3" height="1" fill="#fff"/><rect x="1182" y="311" width="1" height="4" fill="#000"/><rect x="1180" y="312" width="5" height="3" fill="#000"/><rect x="1181" y="313" width="3" height="1" fill="#fff"/><rect x="1190" y="300" width="1" height="17" fill="#000"/><rect x="1188" y="312" width="5" height="1" fill="#000"/><rect x="1198" y="282" width="1" height="33" fill="#000"/><rect x="1196" y="295" width="5" height="20" fill="#000"/><rect x="1197" y="296" width="3" height="18" fill="#fff"/><rect x="1206" y="282" width="1" height="22" fill="#000"/><rect x="1204" y="285" width="5" height="10" fill="#000"/><rect x="1205" y="286" width="3" height="8" fill="#fff"/><rect x="1214" y="270" width="1" height="21" fill="#000"/><rect x="1212" y="285" width="5" height="4" fill="#000"/><rect x="1222" y="287" width="1" height="24" fill="#000"/><rect x="1220" y="288" width="5" height="5" fill="#000"/><rect x="1230" y="290" width="1" height="5" fill="#000"/><rect x="1228" y="291" width="5" height="3" fill="#000"/><rect x="1238" y="280" width="1" height="23" fill="#000"/><rect x="1236" y="292" width="5" height="10" fill="#000"/><rect x="1246" y="295" width="1" height="23" fill="#000"/><rect x="1244" y="297" width="5" height="5" fill="#000"/><rect x="1245" y="298" width="3" height="3" fill="#fff"/><rect x="1254" y="290" width="1" height="16" fill="#000"/><rect x="1252" y="297" width="5" height="6" fill="#000"/><rect x="1262" y="288" width="1" height="29" fill="#000"/><rect x="1260" y="299" width="5" height="5" fill="#000"/><rect x="1261" y="300" width="3" height="3" fill="#fff"/><rect x="1270" y="295" width="1" height="20" fill="#000"/><rect x="1268" y="299" width="5" height="8" fill="#000"/><rect x="1278" y="302" width="1" height="3" fill="#000"/><rect x="1276" y="302" width="5" height="3" fill="#000"/><rect x="1277" y="303" width="3" height="1" fill="#fff"/><rect x="1286" y="270" width="1" height="39" fill="#000"/><rect x="1284" y="275" width="5" height="27" fill="#000"/><rect x="1285" y="276" width="3" height="25" fill="#fff"/><rect x="1294" y="257" width="1" height="19" fill="#000"/><rect x="1292" y="267" width="5" height="9" fill="#000"/><rect x="1293" y="268" width="3" height="7" fill="#fff"/><rect x="1302" y="253" width="1" height="33" fill="#000"/><rect x="1300" y="259" width="5" height="10" fill="#000"/><rect x="1301" y="260" width="3" height="8" fill="#fff"/><rect x="1310" y="253" width="1" height="20" fill="#000"/><rect x="1308" y="258" width="5" height="11" fill="#000"/><rect x="1318" y="267" width="1" height="26" fill="#000"/><rect x="1316" y="268" width="5" height="11" fill="#000"/><rect x="1326" y="274" width="1" height="7" fill="#000"/><rect x="1324" y="277" width="5" height="2" fill="#000"/><rect x="1334" y="272" width="1" height="17" fill="#000"/><rect x="1332" y="276" width="5" height="2" fill="#000"/><rect x="1342" y="267" width="1" height="17" fill="#000"/><rect x="1340" y="272" width="5" height="5" fill="#000"/><rect x="1341" y="273" width="3" height="3" fill="#fff"/><rect x="1350" y="256" width="1" height="21" fill="#000"/><rect x="1348" y="260" width="5" height="12" fill="#000"/><rect x="1349" y="261" width="3" height="10" fill="#fff"/><rect x="1358" y="234" width="1" height="33" fill="#000"/><rect x="1356" y="236" width="5" height="24" fill="#000"/><rect x="1357" y="237" width="3" height="22" fill="#fff"/><rect x="1366" y="189" width="1" height="60" fill="#000"/><rect x="1364" y="205" width="5" height="31" fill="#000"/><rect x="1365" y="206" width="3" height="29" fill="#fff"/><rect x="1374" y="201" width="1" height="6" fill="#000"/><rect x="1372" y="202" width="5" height="4" fill="#000"/><rect x="1373" y="203" width="3" height="2" fill="#fff"/><rect x="1382" y="194" width="1" height="32" fill="#000"/><rect x="1380" y="202" width="5" height="2" fill="#000"/><rect x="1390" y="197" width="1" height="25" fill="#000"/><rect x="1388" y="203" width="5" height="12" fill="#000"/><rect x="1398" y="194" width="1" height="25" fill="#000"/><rect x="1396" y="205" width="5" height="10" fill="#000"/><rect x="1397" y="206" width="3" height="8" fill="#fff"/><rect x="1406" y="189" width="1" height="20" fill="#000"/><rect x="1404" y="201" width="5" height="5" fill="#000"/><rect x="1405" y="202" width="3" height="3" fill="#fff"/><rect x="1414" y="200" width="1" height="22" fill="#000"/><rect x="1412" y="201" width="5" height="12" fill="#000"/><rect x="1422" y="214" width="1" height="3" fill="#000"/><rect x="1420" y="215" width="5" height="1" fill="#000"/><rect x="1430" y="203" width="1" height="14" fill="#000"/><rect x="1428" y="204" width="5" height="12" fill="#000"/><rect x="1429" y="205" width="3" height="10" fill="#fff"/><rect x="1438" y="182" width="1" height="23" fill="#000"/><rect x="1436" y="194" width="5" height="11" fill="#000"/><rect x="1437" y="195" width="3" height="9" fill="#fff"/><rect x="1310" y="226" width="182" height="8" fill="#00ff00"/><g stroke="#ff0000" stroke-width="3" fill="none" shape-rendering="auto" stroke-linecap="butt"><line x1="1332.5" y1="287" x2="1368.5" y2="193"/><line x1="1367.5" y1="195" x2="1364" y2="198.5"/><line x1="1372.5" y1="191" x2="1372.8" y2="203"/></g><rect x="976.5" y="172.5" width="41" height="9" fill="none" stroke="#0000ff" stroke-width="3"/><rect x="1369.5" y="184.5" width="78" height="39" fill="none" stroke="#0000ff" stroke-width="3"/><rect x="1207" y="230" width="10" height="1" fill="#ff0000"/><rect x="1217.5" y="218.5" width="73" height="24" fill="#fff" stroke="#ff0000" stroke-width="1"/><text x="1219" y="238.8" textLength="70" lengthAdjust="spacingAndGlyphs" style="font-family:'Liberation Sans', 'Noto Sans CJK SC', sans-serif;font-size:21.5px;fill:#ff0000">137.523</text><text x="1522" y="233" style="font-family:'Noto Sans CJK SC',sans-serif;font-size:20.5px;letter-spacing:2.6px;font-weight:500;fill:#00ff00">多空转折点</text></g><g clip-path="url(#cd)"><rect x="6" y="632" width="1" height="3" fill="#c0c0c0"/><rect x="14" y="631" width="1" height="4" fill="#c0c0c0"/><rect x="22" y="629" width="1" height="6" fill="#c0c0c0"/><rect x="30" y="628" width="1" height="7" fill="#c0c0c0"/><rect x="38" y="628" width="1" height="7" fill="#c0c0c0"/><rect x="46" y="629" width="1" height="6" fill="#c0c0c0"/><rect x="54" y="629" width="1" height="6" fill="#c0c0c0"/><rect x="62" y="626" width="1" height="9" fill="#c0c0c0"/><rect x="70" y="626" width="1" height="9" fill="#c0c0c0"/><rect x="78" y="628" width="1" height="7" fill="#c0c0c0"/><rect x="86" y="631" width="1" height="4" fill="#c0c0c0"/><rect x="94" y="633" width="1" height="2" fill="#c0c0c0"/><rect x="102" y="634" width="1" height="2" fill="#c0c0c0"/><rect x="110" y="634" width="1" height="4" fill="#c0c0c0"/><rect x="118" y="634" width="1" height="5" fill="#c0c0c0"/><rect x="126" y="634" width="1" height="4" fill="#c0c0c0"/><rect x="134" y="634" width="1" height="3" fill="#c0c0c0"/><rect x="142" y="634" width="1" height="7" fill="#c0c0c0"/><rect x="150" y="634" width="1" height="6" fill="#c0c0c0"/><rect x="158" y="634" width="1" height="5" fill="#c0c0c0"/><rect x="166" y="634" width="1" height="6" fill="#c0c0c0"/><rect x="174" y="634" width="1" height="8" fill="#c0c0c0"/><rect x="182" y="634" width="1" height="10" fill="#c0c0c0"/><rect x="190" y="634" width="1" height="10" fill="#c0c0c0"/><rect x="198" y="634" width="1" height="9" fill="#c0c0c0"/><rect x="206" y="634" width="1" height="8" fill="#c0c0c0"/><rect x="214" y="634" width="1" height="6" fill="#c0c0c0"/><rect x="222" y="634" width="1" height="4" fill="#c0c0c0"/><rect x="230" y="634" width="1" height="2" fill="#c0c0c0"/><rect x="238" y="634" width="1" height="1" fill="#c0c0c0"/><rect x="246" y="633" width="1" height="2" fill="#c0c0c0"/><rect x="254" y="631" width="1" height="4" fill="#c0c0c0"/><rect x="262" y="628" width="1" height="7" fill="#c0c0c0"/><rect x="270" y="624" width="1" height="11" fill="#c0c0c0"/><rect x="278" y="622" width="1" height="13" fill="#c0c0c0"/><rect x="286" y="623" width="1" height="12" fill="#c0c0c0"/><rect x="294" y="624" width="1" height="11" fill="#c0c0c0"/><rect x="302" y="627" width="1" height="8" fill="#c0c0c0"/><rect x="310" y="632" width="1" height="3" fill="#c0c0c0"/><rect x="318" y="634" width="1" height="11" fill="#c0c0c0"/><rect x="326" y="634" width="1" height="21" fill="#c0c0c0"/><rect x="334" y="634" width="1" height="27" fill="#c0c0c0"/><rect x="342" y="634" width="1" height="34" fill="#c0c0c0"/><rect x="350" y="634" width="1" height="36" fill="#c0c0c0"/><rect x="358" y="634" width="1" height="39" fill="#c0c0c0"/><rect x="366" y="634" width="1" height="44" fill="#c0c0c0"/><rect x="374" y="634" width="1" height="48" fill="#c0c0c0"/><rect x="382" y="634" width="1" height="54" fill="#c0c0c0"/><rect x="390" y="634" width="1" height="57" fill="#c0c0c0"/><rect x="398" y="634" width="1" height="62" fill="#c0c0c0"/><rect x="406" y="634" width="1" height="71" fill="#c0c0c0"/><rect x="414" y="634" width="1" height="73" fill="#c0c0c0"/><rect x="422" y="634" width="1" height="77" fill="#c0c0c0"/><rect x="430" y="634" width="1" height="83" fill="#c0c0c0"/><rect x="438" y="634" width="1" height="87" fill="#c0c0c0"/><rect x="446" y="634" width="1" height="100" fill="#c0c0c0"/><rect x="454" y="634" width="1" height="104" fill="#c0c0c0"/><rect x="462" y="634" width="1" height="104" fill="#c0c0c0"/><rect x="470" y="634" width="1" height="104" fill="#c0c0c0"/><rect x="478" y="634" width="1" height="102" fill="#c0c0c0"/><rect x="486" y="634" width="1" height="94" fill="#c0c0c0"/><rect x="494" y="634" width="1" height="85" fill="#c0c0c0"/><rect x="502" y="634" width="1" height="73" fill="#c0c0c0"/><rect x="510" y="634" width="1" height="60" fill="#c0c0c0"/><rect x="518" y="634" width="1" height="50" fill="#c0c0c0"/><rect x="526" y="634" width="1" height="42" fill="#c0c0c0"/><rect x="534" y="634" width="1" height="36" fill="#c0c0c0"/><rect x="542" y="634" width="1" height="33" fill="#c0c0c0"/><rect x="550" y="634" width="1" height="27" fill="#c0c0c0"/><rect x="558" y="634" width="1" height="25" fill="#c0c0c0"/><rect x="566" y="634" width="1" height="23" fill="#c0c0c0"/><rect x="574" y="634" width="1" height="19" fill="#c0c0c0"/><rect x="582" y="634" width="1" height="15" fill="#c0c0c0"/><rect x="590" y="634" width="1" height="10" fill="#c0c0c0"/><rect x="598" y="634" width="1" height="5" fill="#c0c0c0"/><rect x="606" y="634" width="1" height="1" fill="#c0c0c0"/><rect x="614" y="632" width="1" height="3" fill="#c0c0c0"/><rect x="622" y="629" width="1" height="6" fill="#c0c0c0"/><rect x="630" y="628" width="1" height="7" fill="#c0c0c0"/><rect x="638" y="627" width="1" height="8" fill="#c0c0c0"/><rect x="646" y="628" width="1" height="7" fill="#c0c0c0"/><rect x="654" y="628" width="1" height="7" fill="#c0c0c0"/><rect x="662" y="629" width="1" height="6" fill="#c0c0c0"/><rect x="670" y="634" width="1" height="1" fill="#c0c0c0"/><rect x="678" y="634" width="1" height="4" fill="#c0c0c0"/><rect x="686" y="634" width="1" height="6" fill="#c0c0c0"/><rect x="694" y="634" width="1" height="8" fill="#c0c0c0"/><rect x="702" y="634" width="1" height="9" fill="#c0c0c0"/><rect x="710" y="634" width="1" height="9" fill="#c0c0c0"/><rect x="718" y="634" width="1" height="10" fill="#c0c0c0"/><rect x="726" y="634" width="1" height="10" fill="#c0c0c0"/><rect x="734" y="634" width="1" height="5" fill="#c0c0c0"/><rect x="742" y="634" width="1" height="5" fill="#c0c0c0"/><rect x="750" y="634" width="1" height="6" fill="#c0c0c0"/><rect x="758" y="634" width="1" height="7" fill="#c0c0c0"/><rect x="766" y="634" width="1" height="9" fill="#c0c0c0"/><rect x="774" y="634" width="1" height="14" fill="#c0c0c0"/><rect x="782" y="634" width="1" height="16" fill="#c0c0c0"/><rect x="790" y="634" width="1" height="15" fill="#c0c0c0"/><rect x="798" y="634" width="1" height="14" fill="#c0c0c0"/><rect x="806" y="634" width="1" height="13" fill="#c0c0c0"/><rect x="814" y="634" width="1" height="15" fill="#c0c0c0"/><rect x="822" y="634" width="1" height="18" fill="#c0c0c0"/><rect x="830" y="634" width="1" height="19" fill="#c0c0c0"/><rect x="838" y="634" width="1" height="22" fill="#c0c0c0"/><rect x="846" y="634" width="1" height="26" fill="#c0c0c0"/><rect x="854" y="634" width="1" height="25" fill="#c0c0c0"/><rect x="862" y="634" width="1" height="21" fill="#c0c0c0"/><rect x="870" y="634" width="1" height="19" fill="#c0c0c0"/><rect x="878" y="634" width="1" height="18" fill="#c0c0c0"/><rect x="886" y="634" width="1" height="18" fill="#c0c0c0"/><rect x="894" y="634" width="1" height="17" fill="#c0c0c0"/><rect x="902" y="634" width="1" height="16" fill="#c0c0c0"/><rect x="910" y="634" width="1" height="12" fill="#c0c0c0"/><rect x="918" y="634" width="1" height="10" fill="#c0c0c0"/><rect x="926" y="634" width="1" height="7" fill="#c0c0c0"/><rect x="934" y="634" width="1" height="4" fill="#c0c0c0"/><rect x="942" y="634" width="1" height="2" fill="#c0c0c0"/><rect x="950" y="630" width="1" height="5" fill="#c0c0c0"/><rect x="958" y="619" width="1" height="16" fill="#c0c0c0"/><rect x="966" y="611" width="1" height="24" fill="#c0c0c0"/><rect x="974" y="604" width="1" height="31" fill="#c0c0c0"/><rect x="982" y="595" width="1" height="40" fill="#c0c0c0"/><rect x="990" y="588" width="1" height="47" fill="#c0c0c0"/><rect x="998" y="586" width="1" height="49" fill="#c0c0c0"/><rect x="1006" y="587" width="1" height="48" fill="#c0c0c0"/><rect x="1014" y="591" width="1" height="44" fill="#c0c0c0"/><rect x="1022" y="599" width="1" height="36" fill="#c0c0c0"/><rect x="1030" y="605" width="1" height="30" fill="#c0c0c0"/><rect x="1038" y="611" width="1" height="24" fill="#c0c0c0"/><rect x="1046" y="612" width="1" height="23" fill="#c0c0c0"/><rect x="1054" y="614" width="1" height="21" fill="#c0c0c0"/><rect x="1062" y="619" width="1" height="16" fill="#c0c0c0"/><rect x="1070" y="625" width="1" height="10" fill="#c0c0c0"/><rect x="1078" y="633" width="1" height="2" fill="#c0c0c0"/><rect x="1086" y="634" width="1" height="6" fill="#c0c0c0"/><rect x="1094" y="634" width="1" height="7" fill="#c0c0c0"/><rect x="1102" y="634" width="1" height="8" fill="#c0c0c0"/><rect x="1110" y="634" width="1" height="10" fill="#c0c0c0"/><rect x="1118" y="634" width="1" height="11" fill="#c0c0c0"/><rect x="1126" y="634" width="1" height="13" fill="#c0c0c0"/><rect x="1134" y="634" width="1" height="15" fill="#c0c0c0"/><rect x="1142" y="634" width="1" height="16" fill="#c0c0c0"/><rect x="1150" y="634" width="1" height="13" fill="#c0c0c0"/><rect x="1158" y="634" width="1" height="11" fill="#c0c0c0"/><rect x="1166" y="634" width="1" height="9" fill="#c0c0c0"/><rect x="1174" y="634" width="1" height="7" fill="#c0c0c0"/><rect x="1182" y="634" width="1" height="5" fill="#c0c0c0"/><rect x="1190" y="634" width="1" height="3" fill="#c0c0c0"/><rect x="1198" y="633" width="1" height="2" fill="#c0c0c0"/><rect x="1206" y="630" width="1" height="5" fill="#c0c0c0"/><rect x="1214" y="628" width="1" height="7" fill="#c0c0c0"/><rect x="1222" y="626" width="1" height="9" fill="#c0c0c0"/><rect x="1230" y="626" width="1" height="9" fill="#c0c0c0"/><rect x="1238" y="626" width="1" height="9" fill="#c0c0c0"/><rect x="1246" y="626" width="1" height="9" fill="#c0c0c0"/><rect x="1254" y="626" width="1" height="9" fill="#c0c0c0"/><rect x="1262" y="626" width="1" height="9" fill="#c0c0c0"/><rect x="1270" y="627" width="1" height="8" fill="#c0c0c0"/><rect x="1278" y="628" width="1" height="7" fill="#c0c0c0"/><rect x="1286" y="626" width="1" height="9" fill="#c0c0c0"/><rect x="1294" y="623" width="1" height="12" fill="#c0c0c0"/><rect x="1302" y="621" width="1" height="14" fill="#c0c0c0"/><rect x="1310" y="620" width="1" height="15" fill="#c0c0c0"/><rect x="1318" y="620" width="1" height="15" fill="#c0c0c0"/><rect x="1326" y="620" width="1" height="15" fill="#c0c0c0"/><rect x="1334" y="621" width="1" height="14" fill="#c0c0c0"/><rect x="1342" y="621" width="1" height="14" fill="#c0c0c0"/><rect x="1350" y="620" width="1" height="15" fill="#c0c0c0"/><rect x="1358" y="617" width="1" height="18" fill="#c0c0c0"/><rect x="1366" y="612" width="1" height="23" fill="#c0c0c0"/><rect x="1374" y="608" width="1" height="27" fill="#c0c0c0"/><rect x="1382" y="605" width="1" height="30" fill="#c0c0c0"/><rect x="1390" y="604" width="1" height="31" fill="#c0c0c0"/><rect x="1398" y="603" width="1" height="32" fill="#c0c0c0"/><rect x="1406" y="602" width="1" height="33" fill="#c0c0c0"/><rect x="1414" y="603" width="1" height="32" fill="#c0c0c0"/><rect x="1422" y="604" width="1" height="31" fill="#c0c0c0"/><rect x="1430" y="604" width="1" height="31" fill="#c0c0c0"/><rect x="1438" y="604" width="1" height="31" fill="#c0c0c0"/><polyline points="-1.5,633.5 6.5,633.5 14.5,633.5 22.5,633.5 30.5,632.5 38.5,631.5 46.5,631.5 54.5,630.5 62.5,629.5 70.5,629.5 78.5,628.5 86.5,628.5 94.5,629.5 102.5,629.5 110.5,630.5 118.5,631.5 126.5,632.5 134.5,633.5 142.5,635.5 150.5,636.5 158.5,637.5 166.5,638.5 174.5,638.5 182.5,639.5 190.5,639.5 198.5,640.5 206.5,641.5 214.5,641.5 222.5,640.5 230.5,640.5 238.5,639.5 246.5,639.5 254.5,637.5 262.5,635.5 270.5,633.5 278.5,631.5 286.5,630.5 294.5,628.5 302.5,627.5 310.5,627.5 318.5,628.5 326.5,631.5 334.5,635.5 342.5,639.5 350.5,645.5 358.5,650.5 366.5,656.5 374.5,662.5 382.5,668.5 390.5,673.5 398.5,678.5 406.5,682.5 414.5,687.5 422.5,691.5 430.5,696.5 438.5,701.5 446.5,707.5 454.5,712.5 462.5,718.5 470.5,722.5 478.5,726.5 486.5,728.5 494.5,729.5 502.5,728.5 510.5,725.5 518.5,719.5 526.5,712.5 534.5,705.5 542.5,697.5 550.5,689.5 558.5,681.5 566.5,674.5 574.5,668.5 582.5,663.5 590.5,659.5 598.5,654.5 606.5,651.5 614.5,647.5 622.5,643.5 630.5,640.5 638.5,637.5 646.5,634.5 654.5,632.5 662.5,630.5 670.5,630.5 678.5,630.5 686.5,631.5 694.5,632.5 702.5,634.5 710.5,635.5 718.5,637.5 726.5,639.5 734.5,640.5 742.5,640.5 750.5,640.5 758.5,641.5 766.5,641.5 774.5,641.5 782.5,642.5 790.5,643.5 798.5,643.5 806.5,644.5 814.5,645.5 822.5,647.5 830.5,648.5 838.5,649.5 846.5,651.5 854.5,652.5 862.5,652.5 870.5,653.5 878.5,653.5 886.5,654.5 894.5,654.5 902.5,653.5 910.5,652.5 918.5,650.5 926.5,648.5 934.5,646.5 942.5,645.5 950.5,642.5 958.5,639.5 966.5,634.5 974.5,629.5 982.5,624.5 990.5,618.5 998.5,612.5 1006.5,606.5 1014.5,601.5 1022.5,598.5 1030.5,596.5 1038.5,596.5 1046.5,597.5 1054.5,599.5 1062.5,603.5 1070.5,607.5 1078.5,612.5 1086.5,617.5 1094.5,622.5 1102.5,626.5 1110.5,629.5 1118.5,633.5 1126.5,636.5 1134.5,640.5 1142.5,642.5 1150.5,644.5 1158.5,644.5 1166.5,645.5 1174.5,644.5 1182.5,644.5 1190.5,643.5 1198.5,642.5 1206.5,640.5 1214.5,637.5 1222.5,635.5 1230.5,633.5 1238.5,631.5 1246.5,630.5 1254.5,628.5 1262.5,627.5 1270.5,627.5 1278.5,627.5 1286.5,626.5 1294.5,626.5 1302.5,625.5 1310.5,625.5 1318.5,624.5 1326.5,623.5 1334.5,623.5 1342.5,622.5 1350.5,621.5 1358.5,620.5 1366.5,619.5 1374.5,618.5 1382.5,616.5 1390.5,614.5 1398.5,612.5 1406.5,610.5 1414.5,608.5 1422.5,607.5 1430.5,605.5 1438.5,604.5" fill="none" stroke="#ff0000" stroke-width="1" stroke-dasharray="3 3"/></g><g clip-path="url(#cr)"><line x1="0" y1="784.5" x2="1689" y2="784.5" stroke="#c0c0c0" stroke-width="1" stroke-dasharray="3 3" stroke-dashoffset="1"/><line x1="0" y1="835.5" x2="1689" y2="835.5" stroke="#c0c0c0" stroke-width="1" stroke-dasharray="3 3" stroke-dashoffset="1"/><line x1="0" y1="896.5" x2="1689" y2="896.5" stroke="#c0c0c0" stroke-width="1" stroke-dasharray="3 3" stroke-dashoffset="1"/><polyline points="-1.5,833.5 6.5,833.5 14.5,829.5 22.5,822.5 30.5,830.5 38.5,831.5 46.5,833.5 54.5,830.5 62.5,819.5 70.5,826.5 78.5,838.5 86.5,846.5 94.5,844.5 102.5,845.5 110.5,848.5 118.5,840.5 126.5,833.5 134.5,834.5 142.5,854.5 150.5,836.5 158.5,836.5 166.5,841.5 174.5,849.5 182.5,850.5 190.5,844.5 198.5,837.5 206.5,837.5 214.5,831.5 222.5,828.5 230.5,825.5 238.5,831.5 246.5,831.5 254.5,820.5 262.5,815.5 270.5,809.5 278.5,815.5 286.5,833.5 294.5,831.5 302.5,843.5 310.5,855.5 318.5,875.5 326.5,876.5 334.5,867.5 342.5,874.5 350.5,859.5 358.5,865.5 366.5,868.5 374.5,872.5 382.5,878.5 390.5,869.5 398.5,875.5 406.5,883.5 414.5,870.5 422.5,873.5 430.5,879.5 438.5,879.5 446.5,890.5 454.5,874.5 462.5,869.5 470.5,870.5 478.5,868.5 486.5,851.5 494.5,849.5 502.5,839.5 510.5,831.5 518.5,835.5 526.5,836.5 534.5,837.5 542.5,841.5 550.5,834.5 558.5,840.5 566.5,841.5 574.5,836.5 582.5,832.5 590.5,826.5 598.5,826.5 606.5,826.5 614.5,828.5 622.5,825.5 630.5,829.5 638.5,829.5 646.5,833.5 654.5,832.5 662.5,838.5 670.5,851.5 678.5,847.5 686.5,846.5 694.5,848.5 702.5,845.5 710.5,841.5 718.5,847.5 726.5,844.5 734.5,822.5 742.5,838.5 750.5,842.5 758.5,844.5 766.5,847.5 774.5,859.5 782.5,851.5 790.5,843.5 798.5,839.5 806.5,839.5 814.5,852.5 822.5,855.5 830.5,850.5 838.5,859.5 846.5,863.5 854.5,846.5 862.5,836.5 870.5,840.5 878.5,841.5 886.5,846.5 894.5,843.5 902.5,842.5 910.5,830.5 918.5,833.5 926.5,830.5 934.5,827.5 942.5,826.5 950.5,814.5 958.5,798.5 966.5,797.5 974.5,795.5 982.5,789.5 990.5,787.5 998.5,804.5 1006.5,815.5 1014.5,825.5 1022.5,838.5 1030.5,839.5 1038.5,838.5 1046.5,826.5 1054.5,832.5 1062.5,840.5 1070.5,848.5 1078.5,854.5 1086.5,855.5 1094.5,840.5 1102.5,842.5 1110.5,845.5 1118.5,843.5 1126.5,849.5 1134.5,849.5 1142.5,847.5 1150.5,834.5 1158.5,834.5 1166.5,832.5 1174.5,831.5 1182.5,830.5 1190.5,830.5 1198.5,823.5 1206.5,819.5 1214.5,820.5 1222.5,823.5 1230.5,824.5 1238.5,829.5 1246.5,827.5 1254.5,830.5 1262.5,828.5 1270.5,834.5 1278.5,830.5 1286.5,815.5 1294.5,811.5 1302.5,807.5 1310.5,815.5 1318.5,823.5 1326.5,823.5 1334.5,822.5 1342.5,819.5 1350.5,812.5 1358.5,801.5 1366.5,791.5 1374.5,790.5 1382.5,791.5 1390.5,801.5 1398.5,798.5 1406.5,796.5 1414.5,806.5 1422.5,809.5 1430.5,804.5 1438.5,800.5" fill="none" stroke="#1e90ff" stroke-width="1" /></g><rect x="1690" y="43" width="2" height="1" fill="#000"/><text x="1695" y="47" textLength="33.26" lengthAdjust="spacingAndGlyphs" style="font-family:'Liberation Sans', 'Noto Sans CJK SC', sans-serif;font-size:9.8px;fill:#000">145.160</text><rect x="1690" y="76" width="2" height="1" fill="#000"/><text x="1695" y="80" textLength="33.26" lengthAdjust="spacingAndGlyphs" style="font-family:'Liberation Sans', 'Noto Sans CJK SC', sans-serif;font-size:9.8px;fill:#000">143.800</text><rect x="1690" y="109" width="2" height="1" fill="#000"/><text x="1695" y="113" textLength="33.26" lengthAdjust="spacingAndGlyphs" style="font-family:'Liberation Sans', 'Noto Sans CJK SC', sans-serif;font-size:9.8px;fill:#000">142.440</text><rect x="1690" y="208" width="2" height="1" fill="#000"/><text x="1695" y="212" textLength="33.26" lengthAdjust="spacingAndGlyphs" style="font-family:'Liberation Sans', 'Noto Sans CJK SC', sans-serif;font-size:9.8px;fill:#000">138.440</text><rect x="1690" y="241" width="2" height="1" fill="#000"/><text x="1695" y="245" textLength="33.26" lengthAdjust="spacingAndGlyphs" style="font-family:'Liberation Sans', 'Noto Sans CJK SC', sans-serif;font-size:9.8px;fill:#000">137.080</text><rect x="1690" y="274" width="2" height="1" fill="#000"/><text x="1695" y="278" textLength="33.26" lengthAdjust="spacingAndGlyphs" style="font-family:'Liberation Sans', 'Noto Sans CJK SC', sans-serif;font-size:9.8px;fill:#000">135.720</text><rect x="1690" y="307" width="2" height="1" fill="#000"/><text x="1695" y="311" textLength="33.26" lengthAdjust="spacingAndGlyphs" style="font-family:'Liberation Sans', 'Noto Sans CJK SC', sans-serif;font-size:9.8px;fill:#000">134.400</text><rect x="1690" y="340" width="2" height="1" fill="#000"/><text x="1695" y="344" textLength="33.26" lengthAdjust="spacingAndGlyphs" style="font-family:'Liberation Sans', 'Noto Sans CJK SC', sans-serif;font-size:9.8px;fill:#000">133.040</text><rect x="1690" y="373" width="2" height="1" fill="#000"/><text x="1695" y="377" textLength="33.26" lengthAdjust="spacingAndGlyphs" style="font-family:'Liberation Sans', 'Noto Sans CJK SC', sans-serif;font-size:9.8px;fill:#000">131.680</text><rect x="1690" y="406" width="2" height="1" fill="#000"/><text x="1695" y="410" textLength="33.26" lengthAdjust="spacingAndGlyphs" style="font-family:'Liberation Sans', 'Noto Sans CJK SC', sans-serif;font-size:9.8px;fill:#000">130.360</text><rect x="1690" y="439" width="2" height="1" fill="#000"/><text x="1695" y="443" textLength="33.26" lengthAdjust="spacingAndGlyphs" style="font-family:'Liberation Sans', 'Noto Sans CJK SC', sans-serif;font-size:9.8px;fill:#000">129.000</text><rect x="1690" y="472" width="2" height="1" fill="#000"/><text x="1695" y="476" textLength="33.26" lengthAdjust="spacingAndGlyphs" style="font-family:'Liberation Sans', 'Noto Sans CJK SC', sans-serif;font-size:9.8px;fill:#000">127.640</text><rect x="1690" y="505" width="2" height="1" fill="#000"/><text x="1695" y="509" textLength="33.26" lengthAdjust="spacingAndGlyphs" style="font-family:'Liberation Sans', 'Noto Sans CJK SC', sans-serif;font-size:9.8px;fill:#000">126.320</text><rect x="1690" y="538" width="2" height="1" fill="#000"/><text x="1695" y="542" textLength="33.26" lengthAdjust="spacingAndGlyphs" style="font-family:'Liberation Sans', 'Noto Sans CJK SC', sans-serif;font-size:9.8px;fill:#000">124.960</text><rect x="1690" y="571" width="2" height="1" fill="#000"/><text x="1695" y="575" textLength="33.26" lengthAdjust="spacingAndGlyphs" style="font-family:'Liberation Sans', 'Noto Sans CJK SC', sans-serif;font-size:9.8px;fill:#000">123.640</text><rect x="1690" y="142" width="2" height="1" fill="#000"/><rect x="1690" y="175" width="2" height="1" fill="#000"/><path d="M1446,22 L1455,22 L1450.5,27 Z" fill="#c0c0c0" shape-rendering="auto"/><rect x="1691" y="138" width="41" height="11" fill="#ff0000"/><text x="1695" y="146.0" textLength="33.26" lengthAdjust="spacingAndGlyphs" style="font-family:'Liberation Sans', 'Noto Sans CJK SC', sans-serif;font-size:9.8px;fill:#fff">141.024</text><rect x="1691" y="171" width="41" height="11" fill="#ff0000"/><text x="1695" y="179.0" textLength="33.26" lengthAdjust="spacingAndGlyphs" style="font-family:'Liberation Sans', 'Noto Sans CJK SC', sans-serif;font-size:9.8px;fill:#fff">139.680</text><rect x="1691" y="189" width="41" height="11" fill="#000000"/><text x="1695" y="197.0" textLength="33.26" lengthAdjust="spacingAndGlyphs" style="font-family:'Liberation Sans', 'Noto Sans CJK SC', sans-serif;font-size:9.8px;fill:#fff">139.005</text><rect x="1691" y="225" width="41" height="10" fill="#32cd32"/><text x="1695" y="232.5" textLength="33.26" lengthAdjust="spacingAndGlyphs" style="font-family:'Liberation Sans', 'Noto Sans CJK SC', sans-serif;font-size:9.8px;fill:#fff">137.523</text><rect x="1691" y="249" width="41" height="11" fill="#0000ff"/><text x="1695" y="257.0" textLength="33.26" lengthAdjust="spacingAndGlyphs" style="font-family:'Liberation Sans', 'Noto Sans CJK SC', sans-serif;font-size:9.8px;fill:#fff">136.505</text><rect x="1691" y="278" width="41" height="11" fill="#0000ff"/><text x="1695" y="286.0" textLength="33.26" lengthAdjust="spacingAndGlyphs" style="font-family:'Liberation Sans', 'Noto Sans CJK SC', sans-serif;font-size:9.8px;fill:#fff">135.325</text><rect x="1690" y="578" width="2" height="1" fill="#000"/><text x="1693" y="587" textLength="23.02" lengthAdjust="spacingAndGlyphs" style="font-family:'Liberation Sans', 'Noto Sans CJK SC', sans-serif;font-size:9.8px;fill:#000">1.894</text><rect x="1690" y="634" width="2" height="1" fill="#000"/><text x="1693" y="638" textLength="17.91" lengthAdjust="spacingAndGlyphs" style="font-family:'Liberation Sans', 'Noto Sans CJK SC', sans-serif;font-size:9.8px;fill:#000">0.00</text><rect x="1690" y="745" width="2" height="1" fill="#000"/><text x="1693" y="743" textLength="31.20" lengthAdjust="spacingAndGlyphs" style="font-family:'Liberation Sans', 'Noto Sans CJK SC', sans-serif;font-size:9.8px;fill:#000">-3.7183</text><text x="1693" y="759" textLength="15.35" lengthAdjust="spacingAndGlyphs" style="font-family:'Liberation Sans', 'Noto Sans CJK SC', sans-serif;font-size:9.8px;fill:#000">100</text><text x="1693" y="788" textLength="10.23" lengthAdjust="spacingAndGlyphs" style="font-family:'Liberation Sans', 'Noto Sans CJK SC', sans-serif;font-size:9.8px;fill:#000">80</text><text x="1693" y="839" textLength="10.23" lengthAdjust="spacingAndGlyphs" style="font-family:'Liberation Sans', 'Noto Sans CJK SC', sans-serif;font-size:9.8px;fill:#000">50</text><text x="1693" y="900" textLength="10.23" lengthAdjust="spacingAndGlyphs" style="font-family:'Liberation Sans', 'Noto Sans CJK SC', sans-serif;font-size:9.8px;fill:#000">15</text><text x="1693" y="919" textLength="5.12" lengthAdjust="spacingAndGlyphs" style="font-family:'Liberation Sans', 'Noto Sans CJK SC', sans-serif;font-size:9.8px;fill:#000">0</text><rect x="1690" y="749" width="2" height="1" fill="#000"/><rect x="1690" y="921" width="2" height="1" fill="#000"/><text x="-2.5" y="935" textLength="49.55" lengthAdjust="spacingAndGlyphs" style="font-family:'Liberation Sans', 'Noto Sans CJK SC', sans-serif;font-size:9.8px;fill:#000">13 Jan 2020</text><rect x="-2" y="923" width="1" height="4" fill="#000"/><rect x="62" y="923" width="1" height="4" fill="#000"/><text x="61" y="935" textLength="49.55" lengthAdjust="spacingAndGlyphs" style="font-family:'Liberation Sans', 'Noto Sans CJK SC', sans-serif;font-size:9.8px;fill:#000">22 Jan 2020</text><rect x="126" y="923" width="1" height="4" fill="#000"/><text x="125" y="935" textLength="49.55" lengthAdjust="spacingAndGlyphs" style="font-family:'Liberation Sans', 'Noto Sans CJK SC', sans-serif;font-size:9.8px;fill:#000">31 Jan 2020</text><rect x="190" y="923" width="1" height="4" fill="#000"/><text x="189" y="935" textLength="50.54" lengthAdjust="spacingAndGlyphs" style="font-family:'Liberation Sans', 'Noto Sans CJK SC', sans-serif;font-size:9.8px;fill:#000">10 Feb 2020</text><rect x="254" y="923" width="1" height="4" fill="#000"/><text x="253" y="935" textLength="50.54" lengthAdjust="spacingAndGlyphs" style="font-family:'Liberation Sans', 'Noto Sans CJK SC', sans-serif;font-size:9.8px;fill:#000">19 Feb 2020</text><rect x="318" y="923" width="1" height="4" fill="#000"/><text x="317" y="935" textLength="50.54" lengthAdjust="spacingAndGlyphs" style="font-family:'Liberation Sans', 'Noto Sans CJK SC', sans-serif;font-size:9.8px;fill:#000">28 Feb 2020</text><rect x="382" y="923" width="1" height="4" fill="#000"/><text x="381" y="935" textLength="45.53" lengthAdjust="spacingAndGlyphs" style="font-family:'Liberation Sans', 'Noto Sans CJK SC', sans-serif;font-size:9.8px;fill:#000">9 Mar 2020</text><rect x="446" y="923" width="1" height="4" fill="#000"/><text x="445" y="935" textLength="50.53" lengthAdjust="spacingAndGlyphs" style="font-family:'Liberation Sans', 'Noto Sans CJK SC', sans-serif;font-size:9.8px;fill:#000">18 Mar 2020</text><rect x="510" y="923" width="1" height="4" fill="#000"/><text x="509" y="935" textLength="50.53" lengthAdjust="spacingAndGlyphs" style="font-family:'Liberation Sans', 'Noto Sans CJK SC', sans-serif;font-size:9.8px;fill:#000">27 Mar 2020</text><rect x="574" y="923" width="1" height="4" fill="#000"/><text x="573" y="935" textLength="43.54" lengthAdjust="spacingAndGlyphs" style="font-family:'Liberation Sans', 'Noto Sans CJK SC', sans-serif;font-size:9.8px;fill:#000">6 Apr 2020</text><rect x="638" y="923" width="1" height="4" fill="#000"/><text x="637" y="935" textLength="48.54" lengthAdjust="spacingAndGlyphs" style="font-family:'Liberation Sans', 'Noto Sans CJK SC', sans-serif;font-size:9.8px;fill:#000">16 Apr 2020</text><rect x="702" y="923" width="1" height="4" fill="#000"/><text x="701" y="935" textLength="48.54" lengthAdjust="spacingAndGlyphs" style="font-family:'Liberation Sans', 'Noto Sans CJK SC', sans-serif;font-size:9.8px;fill:#000">26 Apr 2020</text><rect x="766" y="923" width="1" height="4" fill="#000"/><text x="765" y="935" textLength="47.03" lengthAdjust="spacingAndGlyphs" style="font-family:'Liberation Sans', 'Noto Sans CJK SC', sans-serif;font-size:9.8px;fill:#000">5 May 2020</text><rect x="830" y="923" width="1" height="4" fill="#000"/><text x="829" y="935" textLength="52.04" lengthAdjust="spacingAndGlyphs" style="font-family:'Liberation Sans', 'Noto Sans CJK SC', sans-serif;font-size:9.8px;fill:#000">14 May 2020</text><rect x="894" y="923" width="1" height="4" fill="#000"/><text x="893" y="935" textLength="52.04" lengthAdjust="spacingAndGlyphs" style="font-family:'Liberation Sans', 'Noto Sans CJK SC', sans-serif;font-size:9.8px;fill:#000">24 May 2020</text><rect x="958" y="923" width="1" height="4" fill="#000"/><text x="957" y="935" textLength="44.54" lengthAdjust="spacingAndGlyphs" style="font-family:'Liberation Sans', 'Noto Sans CJK SC', sans-serif;font-size:9.8px;fill:#000">2 Jun 2020</text><rect x="1022" y="923" width="1" height="4" fill="#000"/><text x="1021" y="935" textLength="48.88" lengthAdjust="spacingAndGlyphs" style="font-family:'Liberation Sans', 'Noto Sans CJK SC', sans-serif;font-size:9.8px;fill:#000">11 Jun 2020</text><rect x="1086" y="923" width="1" height="4" fill="#000"/><text x="1085" y="935" textLength="49.55" lengthAdjust="spacingAndGlyphs" style="font-family:'Liberation Sans', 'Noto Sans CJK SC', sans-serif;font-size:9.8px;fill:#000">21 Jun 2020</text><rect x="1150" y="923" width="1" height="4" fill="#000"/><text x="1149" y="935" textLength="49.55" lengthAdjust="spacingAndGlyphs" style="font-family:'Liberation Sans', 'Noto Sans CJK SC', sans-serif;font-size:9.8px;fill:#000">30 Jun 2020</text><rect x="1214" y="923" width="1" height="4" fill="#000"/><text x="1213" y="935" textLength="41.53" lengthAdjust="spacingAndGlyphs" style="font-family:'Liberation Sans', 'Noto Sans CJK SC', sans-serif;font-size:9.8px;fill:#000">9 Jul 2020</text><rect x="1278" y="923" width="1" height="4" fill="#000"/><text x="1277" y="935" textLength="46.54" lengthAdjust="spacingAndGlyphs" style="font-family:'Liberation Sans', 'Noto Sans CJK SC', sans-serif;font-size:9.8px;fill:#000">19 Jul 2020</text><rect x="1342" y="923" width="1" height="4" fill="#000"/><text x="1341" y="935" textLength="46.54" lengthAdjust="spacingAndGlyphs" style="font-family:'Liberation Sans', 'Noto Sans CJK SC', sans-serif;font-size:9.8px;fill:#000">28 Jul 2020</text><rect x="1406" y="923" width="1" height="4" fill="#000"/><text x="1405" y="935" textLength="45.55" lengthAdjust="spacingAndGlyphs" style="font-family:'Liberation Sans', 'Noto Sans CJK SC', sans-serif;font-size:9.8px;fill:#000">6 Aug 2020</text><text x="2.5" y="588.5" textLength="126.67" lengthAdjust="spacingAndGlyphs" style="font-family:'Liberation Sans', 'Noto Sans CJK SC', sans-serif;font-size:9.9px;fill:#000">MACD(12,26,9) 1.0201 1.0123</text><text x="2.5" y="760.5" textLength="68.24" lengthAdjust="spacingAndGlyphs" style="font-family:'Liberation Sans', 'Noto Sans CJK SC', sans-serif;font-size:9.9px;fill:#000">RSI(14) 70.5494</text><defs><linearGradient id="gh" x1="0" y1="0" x2="0" y2="1"><stop offset="0" stop-color="#6262ff"/><stop offset="1" stop-color="#3838e6"/></linearGradient><linearGradient id="gl" x1="0" y1="0" x2="0" y2="1"><stop offset="0" stop-color="#3c34e4"/><stop offset="0.6" stop-color="#1c14c4"/><stop offset="1" stop-color="#0600a6"/></linearGradient><linearGradient id="glu" gradientUnits="userSpaceOnUse" x1="0" y1="66" x2="0" y2="104"><stop offset="0" stop-color="#3c34e4"/><stop offset="0.6" stop-color="#1c14c4"/><stop offset="1" stop-color="#0600a6"/></linearGradient><linearGradient id="gb" x1="0" y1="0" x2="0" y2="1"><stop offset="0" stop-color="#f6f6f6"/><stop offset="0.45" stop-color="#e8e8e8"/><stop offset="0.5" stop-color="#d9d9d9"/><stop offset="1" stop-color="#d0d0d0"/></linearGradient></defs><rect x="0" y="37" width="222" height="70" fill="#fff"/><rect x="1" y="41" width="52" height="25" fill="#14148c"/><rect x="1" y="65" width="109" height="40" fill="#0c0c88"/><rect x="2" y="42" width="50" height="24" fill="url(#gh)"/><rect x="2" y="66" width="107" height="38" fill="url(#gl)"/><rect x="5" y="64" width="44" height="1" fill="#10108c"/><rect x="5" y="65" width="44" height="1" fill="#7c7cff"/><rect x="168" y="41" width="52" height="25" fill="#14148c"/><rect x="112" y="65" width="108" height="40" fill="#0c0c88"/><rect x="169" y="42" width="50" height="24" fill="url(#gh)"/><rect x="113" y="66" width="106" height="38" fill="url(#gl)"/><rect x="172" y="64" width="44" height="1" fill="#10108c"/><rect x="172" y="65" width="44" height="1" fill="#7c7cff"/><rect x="55" y="41" width="111" height="22" fill="#a8a8a8"/><rect x="56" y="42" width="109" height="20" fill="#fff"/><rect x="56" y="42" width="21" height="20" fill="#c4c4c4"/><rect x="57" y="43" width="19" height="18" fill="url(#gb)"/><rect x="144" y="42" width="21" height="20" fill="#c4c4c4"/><rect x="145" y="43" width="19" height="18" fill="url(#gb)"/><path d="M63,50 h5 l-2.5,3 z" fill="#5a6ad0" shape-rendering="auto"/><path d="M152,53 h5 l-2.5,-3 z" fill="#5a6ad0" shape-rendering="auto"/><text x="141" y="56" text-anchor="end" style="font-family:'Liberation Sans', 'Noto Sans CJK SC', sans-serif;font-size:12px;fill:#000">1.00</text><text x="26.5" y="57" text-anchor="middle" style="font-family:'Liberation Sans', 'Noto Sans CJK SC', sans-serif;font-size:11px;fill:#fff">SELL</text><text x="193" y="57" text-anchor="middle" style="font-family:'Liberation Sans', 'Noto Sans CJK SC', sans-serif;font-size:11px;fill:#fff">BUY</text><text x="24" y="96" style="font-family:'Liberation Sans', 'Noto Sans CJK SC', sans-serif;font-size:12px;font-weight:bold;fill:#fff">139</text><text x="48.5" y="96" style="font-family:'Liberation Sans', 'Noto Sans CJK SC', sans-serif;font-size:34.5px;fill:#fff;stroke:url(#glu);stroke-width:0.6px" textLength="34.5" lengthAdjust="spacingAndGlyphs">00</text><text x="89.5" y="80" style="font-family:'Liberation Sans', 'Noto Sans CJK SC', sans-serif;font-size:12.5px;font-weight:bold;fill:#fff">5</text><text x="134" y="96" style="font-family:'Liberation Sans', 'Noto Sans CJK SC', sans-serif;font-size:12px;font-weight:bold;fill:#fff">139</text><text x="158.5" y="96" style="font-family:'Liberation Sans', 'Noto Sans CJK SC', sans-serif;font-size:34.5px;fill:#fff;stroke:url(#glu);stroke-width:0.6px" textLength="34.5" lengthAdjust="spacingAndGlyphs">07</text><text x="199.5" y="80" style="font-family:'Liberation Sans', 'Noto Sans CJK SC', sans-serif;font-size:12.5px;font-weight:bold;fill:#fff">3</text><path d="M2,33 l3.5,-5 l3.5,5 z" fill="#000" shape-rendering="auto"/><text x="13" y="33" style="font-family:'Liberation Sans', 'Noto Sans CJK SC', sans-serif;font-size:9.3px;fill:#000">GBPJPY-,Daily</text><text x="82" y="33" style="font-family:'Liberation Sans', 'Noto Sans CJK SC', sans-serif;font-size:9.3px;fill:#000">138.581 139.487 138.567 139.005</text></svg>
<div id="tb"><svg width="1736" height="17" viewBox="0 0 1736 17" style="position:absolute;left:0;top:0"><defs><linearGradient id="tg" x1="0" y1="0" x2="0" y2="1"><stop offset="0" stop-color="#f3f3f3"/><stop offset="1" stop-color="#ececec"/></linearGradient></defs><rect x="0" y="0" width="1736" height="17" fill="url(#tg)"/><rect x="-1.5" y="-4.5" width="13" height="16" fill="#fff" stroke="#4a78c8" stroke-width="1.2"/><rect x="1.5" y="0" width="1.5" height="1.5" fill="#e03030"/><rect x="4" y="0.3" width="6" height="1" fill="#c8d8f0"/><rect x="1.5" y="2.5" width="1.5" height="1.5" fill="#303030"/><rect x="4" y="2.8" width="6" height="1" fill="#c8d8f0"/><rect x="1.5" y="4.5" width="1.5" height="1.5" fill="#303030"/><rect x="4" y="4.8" width="6" height="1" fill="#c8d8f0"/><rect x="1.5" y="6.5" width="1.5" height="1.5" fill="#e03030"/><rect x="4" y="6.8" width="6" height="1" fill="#c8d8f0"/><rect x="25.5" y="-3.5" width="11" height="14" fill="#f4f0e8" stroke="#9c9486"/><path d="M37,10 L41.5,14" stroke="#c8a020" stroke-width="2.5"/><circle cx="33" cy="6" r="4.3" fill="#d8ecfa" stroke="#5a90d0" stroke-width="1"/><rect x="50" y="0" width="1" height="15" fill="#a8a8a8"/><rect x="51" y="0" width="1" height="15" fill="#fcfcfc"/><rect x="60.5" y="-3.5" width="11" height="14" fill="#fff" stroke="#808080"/><rect x="62" y="3" width="7" height="1" fill="#909090"/><rect x="62" y="6" width="5" height="1" fill="#909090"/><path d="M68.5,3 h4 v4.5 h4.5 v4 h-4.5 v4.5 h-4 v-4.5 h-4.5 v-4 h4.5 z" fill="#20c020" stroke="#108010" stroke-width="0.8"/><text x="78.5" y="8" style="font-family:'Noto Sans CJK SC',sans-serif;font-size:12.5px;fill:#000">新订单</text><path d="M128,6 L133,0 L142,5 L137,12 Z" fill="#e8b830" stroke="#a07010" stroke-width="0.8"/><path d="M129,8 L137,13 L142,7" fill="none" stroke="#c08820" stroke-width="1"/><rect x="157" y="-3" width="9" height="10" fill="#3c8ce0"/><rect x="159" y="1" width="5" height="1.5" fill="#fff"/><path d="M156.5,12.5 a2.5,2.5 0 0 1 0.5,-4.5 a3,3 0 0 1 4.5,-2.5 a3.5,3.5 0 0 1 6,1 a2.8,2.8 0 0 1 1.5,6 z" fill="#eef2fa" stroke="#5f80b8" stroke-width="0.9"/><circle cx="191" cy="4.5" r="7" fill="none" stroke="#7aa0e0" stroke-width="1"/><circle cx="191" cy="4.5" r="4.2" fill="none" stroke="#5080d0" stroke-width="1"/><circle cx="191" cy="4.5" r="1.6" fill="#2050c0"/><path d="M191,5 v7 q5,0 7,-5" fill="none" stroke="#30a040" stroke-width="1.6"/><path d="M210,4 q6,-4 13,0 l-3,7 h-7 z" fill="#f0d040" stroke="#b09020" stroke-width="0.8"/><ellipse cx="216.5" cy="1" rx="6" ry="3" fill="#70b0e0"/><circle cx="222.5" cy="8.5" r="3.6" fill="#d02020"/><rect x="221" y="7" width="3" height="3" fill="#fff"/><text x="231.5" y="8" style="font-family:'Noto Sans CJK SC',sans-serif;font-size:12.5px;fill:#000">自动交易</text><rect x="286" y="0" width="1" height="15" fill="#a8a8a8"/><rect x="287" y="0" width="1" height="15" fill="#fcfcfc"/><rect x="289" y="1" width="4" height="1" fill="#b0b0b0"/><rect x="289" y="3" width="4" height="1" fill="#b0b0b0"/><rect x="289" y="5" width="4" height="1" fill="#b0b0b0"/><rect x="289" y="7" width="4" height="1" fill="#b0b0b0"/><rect x="289" y="9" width="4" height="1" fill="#b0b0b0"/><rect x="289" y="11" width="4" height="1" fill="#b0b0b0"/><rect x="289" y="13" width="4" height="1" fill="#b0b0b0"/><rect x="304" y="-1" width="1.2" height="14" fill="#505050"/><rect x="301.5" y="10" width="13" height="1.2" fill="#505050"/><path d="M314,8.5 l3,2.1 l-3,2.1z" fill="#505050"/><path d="M310.5,1 v7.5 M308.5,7.5 h2 M310.5,1.5 h2.5" stroke="#20a020" stroke-width="1.3" fill="none"/><rect x="324" y="0" width="1" height="15" fill="#a8a8a8"/><rect x="325" y="0" width="1" height="15" fill="#fcfcfc"/><rect x="326" y="0" width="23" height="16" fill="#f8f8f8"/><rect x="332" y="-1" width="1.2" height="14" fill="#505050"/><rect x="329.5" y="10" width="13" height="1.2" fill="#505050"/><path d="M342,8.5 l3,2.1 l-3,2.1z" fill="#505050"/><rect x="336" y="-1" width="4.5" height="7.5" fill="#30c030" stroke="#108010" stroke-width="0.7"/><rect x="337.6" y="6.5" width="1.2" height="2.5" fill="#108010"/><rect x="360" y="-1" width="1.2" height="14" fill="#505050"/><rect x="357.5" y="10" width="13" height="1.2" fill="#505050"/><path d="M370,8.5 l3,2.1 l-3,2.1z" fill="#505050"/><path d="M360,7 q4,-7 8,-3 l3,2" stroke="#30a040" stroke-width="1.1" fill="none"/><rect x="381" y="0" width="1" height="15" fill="#a8a8a8"/><rect x="382" y="0" width="1" height="15" fill="#fcfcfc"/><path d="M399,7 L405,12.5" stroke="#c8a020" stroke-width="2.5"/><circle cx="396" cy="3.5" r="5" fill="#dcecfa" stroke="#3a78c8" stroke-width="1.1"/><rect x="393.2" y="2.8" width="5.6" height="1.5" fill="#3a78c8"/><rect x="395.25" y="0.7" width="1.5" height="5.6" fill="#3a78c8"/><path d="M427,7 L433,12.5" stroke="#c8a020" stroke-width="2.5"/><circle cx="424" cy="3.5" r="5" fill="#dcecfa" stroke="#3a78c8" stroke-width="1.1"/><rect x="421.2" y="2.8" width="5.6" height="1.5" fill="#3a78c8"/><rect x="446" y="-2" width="7" height="6" fill="#30a040"/><rect x="454" y="-2" width="7" height="6" fill="#3a6fd0"/><rect x="446" y="5" width="7" height="7" fill="#3a6fd0"/><rect x="454" y="5" width="7" height="7" fill="#30a040"/><rect x="447.5" y="7" width="4" height="1" fill="#fff"/><rect x="455.5" y="7" width="4" height="1" fill="#fff"/><rect x="447.5" y="0" width="4" height="1" fill="#fff"/><rect x="455.5" y="0" width="4" height="1" fill="#fff"/><rect x="471" y="0" width="1" height="15" fill="#a8a8a8"/><rect x="472" y="0" width="1" height="15" fill="#fcfcfc"/><rect x="475" y="0" width="1" height="15" fill="#a8a8a8"/><rect x="476" y="0" width="1" height="15" fill="#fcfcfc"/><rect x="477" y="0" width="24" height="16" fill="#f8f8f8"/><rect x="484" y="-1" width="1.2" height="14" fill="#505050"/><rect x="481.5" y="10" width="13" height="1.2" fill="#505050"/><path d="M494,8.5 l3,2.1 l-3,2.1z" fill="#505050"/><path d="M489,2 l4.5,3 l-4.5,3z" fill="#30b040"/><rect x="504" y="0" width="1" height="15" fill="#a8a8a8"/><rect x="505" y="0" width="1" height="15" fill="#fcfcfc"/><rect x="506" y="0" width="24" height="16" fill="#f8f8f8"/><rect x="512" y="-1" width="1.2" height="14" fill="#505050"/><rect x="509.5" y="10" width="13" height="1.2" fill="#505050"/><path d="M522,8.5 l3,2.1 l-3,2.1z" fill="#505050"/><rect x="518" y="-1" width="1.2" height="10" fill="#3a78c8"/><path d="M524,4.5 l-4,0 M521.5,2 l-2.5,2.5 l2.5,2.5" stroke="#e05010" stroke-width="1.2" fill="none"/><rect x="533" y="0" width="1" height="15" fill="#a8a8a8"/><rect x="534" y="0" width="1" height="15" fill="#fcfcfc"/><rect x="543.5" y="-3.5" width="10" height="13" fill="#f8f8f8" stroke="#808080"/><path d="M551,2.5 h3.5 v4 h4 v3.5 h-4 v4 h-3.5 v-4 h-4 v-3.5 h4 z" fill="#20c020" stroke="#108010" stroke-width="0.8"/><path d="M565,4 h5 l-2.5,2.5 z" fill="#000"/><circle cx="589" cy="4" r="7.5" fill="#1e64c8"/><circle cx="589" cy="4" r="5.4" fill="#f2f6fa"/><path d="M589,0 v4.5 h3.5" stroke="#203040" stroke-width="1.1" fill="none"/><path d="M604,4 h5 l-2.5,2.5 z" fill="#000"/><rect x="620.5" y="-2.5" width="15" height="14" fill="#fff" stroke="#3a6fc0"/><rect x="621" y="5" width="14" height="1" fill="#3a6fc0"/><path d="M622,3 l3,-1 l3,1 l3,-2 l3,1" stroke="#c03020" fill="none"/><path d="M622,10 l3,-2 l3,1 l3,-2 l3,1" stroke="#30a040" fill="none"/><path d="M643,4 h5 l-2.5,2.5 z" fill="#000"/><rect x="654" y="0" width="1" height="15" fill="#a8a8a8"/><rect x="655" y="0" width="1" height="15" fill="#fcfcfc"/><rect x="658" y="1" width="4" height="1" fill="#b0b0b0"/><rect x="658" y="3" width="4" height="1" fill="#b0b0b0"/><rect x="658" y="5" width="4" height="1" fill="#b0b0b0"/><rect x="658" y="7" width="4" height="1" fill="#b0b0b0"/><rect x="658" y="9" width="4" height="1" fill="#b0b0b0"/><rect x="658" y="11" width="4" height="1" fill="#b0b0b0"/><rect x="658" y="13" width="4" height="1" fill="#b0b0b0"/><rect x="664" y="0" width="1" height="15" fill="#a8a8a8"/><rect x="665" y="0" width="1" height="15" fill="#fcfcfc"/><rect x="666" y="0" width="24" height="16" fill="#f8f8f8"/><path d="M672,-1 v11 l2.5,-2.5 l2,4 l1.5,-0.8 l-2,-3.8 h3.5 z" fill="#303030"/><rect x="697" y="5" width="15" height="1.2" fill="#505050"/><rect x="704" y="-1" width="1.2" height="13" fill="#505050"/><rect x="721" y="0" width="1" height="15" fill="#a8a8a8"/><rect x="722" y="0" width="1" height="15" fill="#fcfcfc"/><rect x="738" y="-1" width="1.2" height="12" fill="#505050"/><rect x="761" y="5" width="12" height="1.2" fill="#505050"/><path d="M789,12 L803,0" stroke="#505050" stroke-width="1.1"/><path d="M816,7 l7,-7 M816,11 l8,-8 M819,11 l8,-8" stroke="#505050" stroke-width="1"/><text x="826" y="14" style="font-family:'Liberation Sans', 'Noto Sans CJK SC', sans-serif;font-size:7px;font-weight:bold;fill:#404040">E</text><g fill="#606060"><rect x="844" y="0" width="12" height="1"/><rect x="844" y="3" width="12" height="1"/><rect x="844" y="6" width="12" height="1"/><rect x="844" y="9" width="10" height="1"/></g><text x="854" y="14" style="font-family:'Liberation Sans', 'Noto Sans CJK SC', sans-serif;font-size:7px;font-weight:bold;fill:#404040">F</text><text x="874" y="10" style="font-family:'Liberation Sans', 'Noto Sans CJK SC', sans-serif;font-size:12px;font-weight:bold;fill:#505050">A</text><rect x="901.5" y="-0.5" width="12" height="11" fill="none" stroke="#707070" stroke-dasharray="1 1"/><text x="903.5" y="9" style="font-family:'Liberation Sans', 'Noto Sans CJK SC', sans-serif;font-size:10px;font-weight:bold;fill:#404040">T</text><path d="M928,2 l3,3 l4,-5 M934,6 l3,3 l3,-3 l-3,-3 z" stroke="#303030" stroke-width="1.3" fill="#303030"/><path d="M949,4 h5 l-2.5,2.5 z" fill="#000"/><rect x="960" y="0" width="1" height="15" fill="#a8a8a8"/><rect x="961" y="0" width="1" height="15" fill="#fcfcfc"/><rect x="964" y="1" width="4" height="1" fill="#b0b0b0"/><rect x="964" y="3" width="4" height="1" fill="#b0b0b0"/><rect x="964" y="5" width="4" height="1" fill="#b0b0b0"/><rect x="964" y="7" width="4" height="1" fill="#b0b0b0"/><rect x="964" y="9" width="4" height="1" fill="#b0b0b0"/><rect x="964" y="11" width="4" height="1" fill="#b0b0b0"/><rect x="964" y="13" width="4" height="1" fill="#b0b0b0"/><text x="975.5" y="9" style="font-family:'Liberation Sans', 'Noto Sans CJK SC', sans-serif;font-size:10px;fill:#404040">M1</text><text x="1003.5" y="9" style="font-family:'Liberation Sans', 'Noto Sans CJK SC', sans-serif;font-size:10px;fill:#404040">M5</text><text x="1029.5" y="9" style="font-family:'Liberation Sans', 'Noto Sans CJK SC', sans-serif;font-size:10px;fill:#404040">M15</text><text x="1057.5" y="9" style="font-family:'Liberation Sans', 'Noto Sans CJK SC', sans-serif;font-size:10px;fill:#404040">M30</text><text x="1088" y="9" style="font-family:'Liberation Sans', 'Noto Sans CJK SC', sans-serif;font-size:10px;fill:#404040">H1</text><text x="1115.5" y="9" style="font-family:'Liberation Sans', 'Noto Sans CJK SC', sans-serif;font-size:10px;fill:#404040">H4</text><rect x="1135" y="0" width="1" height="15" fill="#a8a8a8"/><rect x="1136" y="0" width="1" height="15" fill="#fcfcfc"/><rect x="1138" y="0" width="25" height="16" fill="#f8f8f8"/><text x="1144.5" y="9" style="font-family:'Liberation Sans', 'Noto Sans CJK SC', sans-serif;font-size:10px;fill:#404040">D1</text><text x="1171.5" y="9" style="font-family:'Liberation Sans', 'Noto Sans CJK SC', sans-serif;font-size:10px;fill:#404040">W1</text><text x="1198.5" y="9" style="font-family:'Liberation Sans', 'Noto Sans CJK SC', sans-serif;font-size:10px;fill:#404040">MN</text><rect x="1221" y="0" width="1" height="15" fill="#a8a8a8"/><rect x="1222" y="0" width="1" height="15" fill="#fcfcfc"/><circle cx="1691.5" cy="2.5" r="4" fill="#f6f8fc" stroke="#2a62d8" stroke-width="1.3"/><path d="M1688.5,5.5 L1684.5,10" stroke="#2a5fd0" stroke-width="2.6"/><ellipse cx="1725" cy="2.5" rx="5" ry="3.8" fill="#e6e6ee" stroke="#808080" stroke-width="0.9"/><ellipse cx="1715.5" cy="6" rx="5" ry="3.8" fill="#e6e6ee" stroke="#808080" stroke-width="0.9"/><path d="M1713,9 l-0.8,3 l3,-2.3" fill="#707070"/><path d="M1727,5.5 l0.8,3 l-3,-2.3" fill="#707070"/></svg></div><div id="tbl"></div><div id="edge"></div>
</body></html>
